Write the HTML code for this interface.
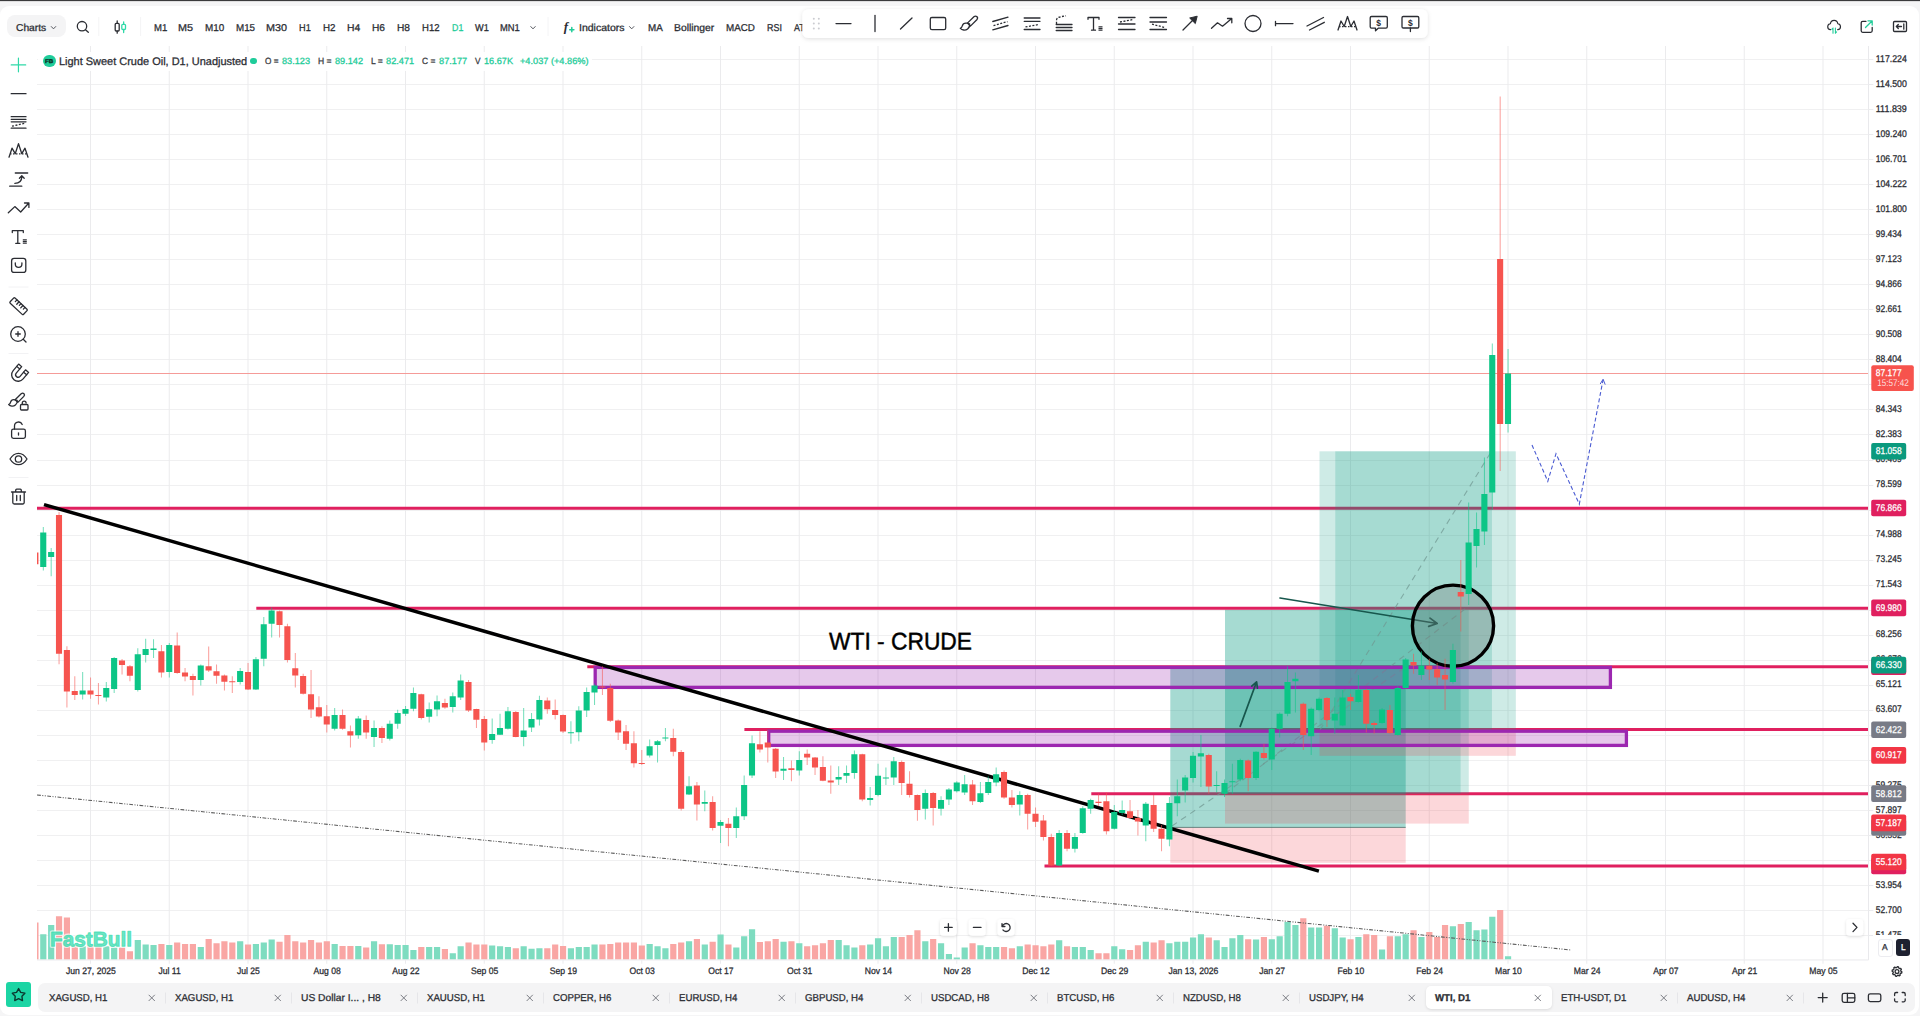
<!DOCTYPE html>
<html><head><meta charset="utf-8"><title>WTI, D1</title><style>
html,body{margin:0;padding:0}
body{width:1920px;height:1016px;overflow:hidden;position:relative;background:#f5f5f6;font-family:"Liberation Sans",sans-serif}
#top{position:absolute;left:0;top:0;width:1920px;height:2px;background:linear-gradient(#3a3a3c 0,#3a3a3c 50%,#dededf 50%,#dededf 100%)}
#panel{position:absolute;left:0;top:6px;width:1918.5px;height:1008.5px;background:#fff;border-radius:9px}
.t{position:absolute;white-space:nowrap;transform-origin:0 50%;display:block}
.btn{position:absolute;background:#f4f4f5}
svg{position:absolute;left:0;top:0}
</style></head>
<body>
<div id="top"></div>
<div id="panel"></div>
<svg id="chart" width="1920" height="1016" viewBox="0 0 1920 1016">
<defs><clipPath id="cp"><rect x="37" y="46" width="1831.3" height="913.75"/></clipPath></defs>
<g clip-path="url(#cp)">
<path d="M37 59.50H1868.3 M37 84.50H1868.3 M37 109.50H1868.3 M37 134.50H1868.3 M37 159.50H1868.3 M37 184.50H1868.3 M37 209.50H1868.3 M37 234.50H1868.3 M37 259.50H1868.3 M37 284.50H1868.3 M37 309.50H1868.3 M37 334.50H1868.3 M37 359.50H1868.3 M37 384.50H1868.3 M37 409.50H1868.3 M37 434.50H1868.3 M37 460.50H1868.3 M37 485.50H1868.3 M37 510.50H1868.3 M37 535.50H1868.3 M37 560.50H1868.3 M37 585.50H1868.3 M37 610.50H1868.3 M37 635.50H1868.3 M37 660.50H1868.3 M37 685.50H1868.3 M37 710.50H1868.3 M37 735.50H1868.3 M37 760.50H1868.3 M37 785.50H1868.3 M37 810.50H1868.3 M37 835.50H1868.3 M37 860.50H1868.3 M37 885.50H1868.3 M37 910.50H1868.3 M37 935.50H1868.3" stroke="#f0f0f1" stroke-width="1" fill="none"/>
<path d="M1823.00 46V959.75 M1744.25 46V959.75 M1665.50 46V959.75 M1586.75 46V959.75 M1508.00 46V959.75 M1429.25 46V959.75 M1350.50 46V959.75 M1271.75 46V959.75 M1193.00 46V959.75 M1114.25 46V959.75 M1035.50 46V959.75 M956.75 46V959.75 M878.00 46V959.75 M799.25 46V959.75 M720.50 46V959.75 M641.75 46V959.75 M563.00 46V959.75 M484.25 46V959.75 M405.50 46V959.75 M326.75 46V959.75 M248.00 46V959.75 M169.25 46V959.75 M90.50 46V959.75" stroke="#ebebed" stroke-width="1" fill="none"/>
<rect x="38" y="52" width="554" height="19" fill="#fff" fill-opacity=".92"/>
<path d="M40.20 934.25h6.2V959.75h-6.2zM48.08 925.00h6.2V959.75h-6.2zM79.58 946.25h6.2V959.75h-6.2zM103.20 946.25h6.2V959.75h-6.2zM111.08 947.50h6.2V959.75h-6.2zM134.70 940.00h6.2V959.75h-6.2zM142.57 944.50h6.2V959.75h-6.2zM150.45 945.00h6.2V959.75h-6.2zM166.20 945.00h6.2V959.75h-6.2zM197.70 947.00h6.2V959.75h-6.2zM237.07 941.25h6.2V959.75h-6.2zM252.82 944.00h6.2V959.75h-6.2zM260.70 942.50h6.2V959.75h-6.2zM268.57 939.50h6.2V959.75h-6.2zM331.57 944.00h6.2V959.75h-6.2zM355.20 946.00h6.2V959.75h-6.2zM370.95 941.25h6.2V959.75h-6.2zM386.70 944.25h6.2V959.75h-6.2zM394.57 945.00h6.2V959.75h-6.2zM402.45 945.00h6.2V959.75h-6.2zM410.32 950.00h6.2V959.75h-6.2zM426.07 947.00h6.2V959.75h-6.2zM433.95 947.00h6.2V959.75h-6.2zM449.70 953.25h6.2V959.75h-6.2zM457.57 946.25h6.2V959.75h-6.2zM489.07 945.50h6.2V959.75h-6.2zM496.95 946.25h6.2V959.75h-6.2zM504.82 947.00h6.2V959.75h-6.2zM520.58 946.25h6.2V959.75h-6.2zM528.45 948.75h6.2V959.75h-6.2zM536.33 948.25h6.2V959.75h-6.2zM567.83 948.25h6.2V959.75h-6.2zM575.70 947.00h6.2V959.75h-6.2zM583.58 947.00h6.2V959.75h-6.2zM591.45 944.50h6.2V959.75h-6.2zM646.58 944.00h6.2V959.75h-6.2zM654.45 946.25h6.2V959.75h-6.2zM662.33 948.25h6.2V959.75h-6.2zM685.95 941.25h6.2V959.75h-6.2zM701.70 944.50h6.2V959.75h-6.2zM717.45 934.50h6.2V959.75h-6.2zM733.20 947.50h6.2V959.75h-6.2zM741.08 936.25h6.2V959.75h-6.2zM748.95 929.25h6.2V959.75h-6.2zM780.45 941.75h6.2V959.75h-6.2zM796.20 943.25h6.2V959.75h-6.2zM835.58 940.00h6.2V959.75h-6.2zM843.45 945.25h6.2V959.75h-6.2zM851.33 947.50h6.2V959.75h-6.2zM867.08 944.50h6.2V959.75h-6.2zM874.95 938.25h6.2V959.75h-6.2zM882.83 946.25h6.2V959.75h-6.2zM890.70 937.00h6.2V959.75h-6.2zM922.20 941.25h6.2V959.75h-6.2zM937.95 943.25h6.2V959.75h-6.2zM945.83 954.00h6.2V959.75h-6.2zM953.70 957.50h6.2V959.75h-6.2zM961.58 947.50h6.2V959.75h-6.2zM977.33 945.25h6.2V959.75h-6.2zM985.20 947.00h6.2V959.75h-6.2zM993.08 947.00h6.2V959.75h-6.2zM1016.70 946.25h6.2V959.75h-6.2zM1056.08 940.25h6.2V959.75h-6.2zM1071.83 947.00h6.2V959.75h-6.2zM1079.70 947.00h6.2V959.75h-6.2zM1087.58 950.00h6.2V959.75h-6.2zM1111.20 946.25h6.2V959.75h-6.2zM1119.08 949.25h6.2V959.75h-6.2zM1142.70 941.75h6.2V959.75h-6.2zM1166.33 943.25h6.2V959.75h-6.2zM1174.20 941.75h6.2V959.75h-6.2zM1182.08 941.75h6.2V959.75h-6.2zM1189.95 937.50h6.2V959.75h-6.2zM1197.83 934.25h6.2V959.75h-6.2zM1213.58 940.25h6.2V959.75h-6.2zM1221.45 947.00h6.2V959.75h-6.2zM1229.33 938.25h6.2V959.75h-6.2zM1237.20 935.00h6.2V959.75h-6.2zM1252.95 939.50h6.2V959.75h-6.2zM1268.70 939.25h6.2V959.75h-6.2zM1276.58 936.25h6.2V959.75h-6.2zM1284.45 922.00h6.2V959.75h-6.2zM1292.33 925.00h6.2V959.75h-6.2zM1308.08 927.50h6.2V959.75h-6.2zM1315.95 927.50h6.2V959.75h-6.2zM1331.70 928.25h6.2V959.75h-6.2zM1339.58 937.50h6.2V959.75h-6.2zM1355.33 937.00h6.2V959.75h-6.2zM1378.95 949.50h6.2V959.75h-6.2zM1394.70 936.25h6.2V959.75h-6.2zM1402.58 934.25h6.2V959.75h-6.2zM1418.33 937.00h6.2V959.75h-6.2zM1449.83 926.25h6.2V959.75h-6.2zM1465.58 922.00h6.2V959.75h-6.2zM1473.45 930.25h6.2V959.75h-6.2zM1481.33 929.50h6.2V959.75h-6.2zM1489.20 916.75h6.2V959.75h-6.2zM1504.95 956.25h6.2V959.75h-6.2z" fill="#7edcc0"/>
<path d="M32.33 922.50h6.2V959.75h-6.2zM55.95 916.25h6.2V959.75h-6.2zM63.83 917.50h6.2V959.75h-6.2zM71.70 945.00h6.2V959.75h-6.2zM87.45 945.00h6.2V959.75h-6.2zM95.33 946.25h6.2V959.75h-6.2zM118.95 947.50h6.2V959.75h-6.2zM126.83 951.25h6.2V959.75h-6.2zM158.32 944.00h6.2V959.75h-6.2zM174.07 942.50h6.2V959.75h-6.2zM181.95 944.00h6.2V959.75h-6.2zM189.82 944.00h6.2V959.75h-6.2zM205.57 939.00h6.2V959.75h-6.2zM213.45 943.25h6.2V959.75h-6.2zM221.32 941.25h6.2V959.75h-6.2zM229.20 942.50h6.2V959.75h-6.2zM244.95 944.50h6.2V959.75h-6.2zM276.45 941.75h6.2V959.75h-6.2zM284.32 935.00h6.2V959.75h-6.2zM292.20 941.25h6.2V959.75h-6.2zM300.07 942.50h6.2V959.75h-6.2zM307.95 940.00h6.2V959.75h-6.2zM315.82 942.50h6.2V959.75h-6.2zM323.70 941.25h6.2V959.75h-6.2zM339.45 946.00h6.2V959.75h-6.2zM347.32 946.00h6.2V959.75h-6.2zM363.07 947.50h6.2V959.75h-6.2zM378.82 944.25h6.2V959.75h-6.2zM418.20 947.00h6.2V959.75h-6.2zM441.82 949.00h6.2V959.75h-6.2zM465.45 942.50h6.2V959.75h-6.2zM473.32 944.50h6.2V959.75h-6.2zM481.20 944.50h6.2V959.75h-6.2zM512.70 948.25h6.2V959.75h-6.2zM544.20 948.25h6.2V959.75h-6.2zM552.08 944.50h6.2V959.75h-6.2zM559.95 946.00h6.2V959.75h-6.2zM599.33 944.50h6.2V959.75h-6.2zM607.20 944.00h6.2V959.75h-6.2zM615.08 942.50h6.2V959.75h-6.2zM622.95 942.50h6.2V959.75h-6.2zM630.83 942.50h6.2V959.75h-6.2zM638.70 945.50h6.2V959.75h-6.2zM670.20 944.00h6.2V959.75h-6.2zM678.08 942.50h6.2V959.75h-6.2zM693.83 939.00h6.2V959.75h-6.2zM709.58 941.75h6.2V959.75h-6.2zM725.33 944.50h6.2V959.75h-6.2zM756.83 942.00h6.2V959.75h-6.2zM764.70 941.25h6.2V959.75h-6.2zM772.58 939.00h6.2V959.75h-6.2zM788.33 941.25h6.2V959.75h-6.2zM804.08 946.25h6.2V959.75h-6.2zM811.95 945.25h6.2V959.75h-6.2zM819.83 943.25h6.2V959.75h-6.2zM827.70 940.00h6.2V959.75h-6.2zM859.20 945.25h6.2V959.75h-6.2zM898.58 937.00h6.2V959.75h-6.2zM906.45 935.00h6.2V959.75h-6.2zM914.33 930.25h6.2V959.75h-6.2zM930.08 939.00h6.2V959.75h-6.2zM969.45 943.25h6.2V959.75h-6.2zM1000.95 947.00h6.2V959.75h-6.2zM1008.83 948.25h6.2V959.75h-6.2zM1024.58 944.50h6.2V959.75h-6.2zM1032.45 945.25h6.2V959.75h-6.2zM1040.33 946.25h6.2V959.75h-6.2zM1048.20 944.50h6.2V959.75h-6.2zM1063.95 946.25h6.2V959.75h-6.2zM1095.45 953.25h6.2V959.75h-6.2zM1103.33 953.25h6.2V959.75h-6.2zM1126.95 950.00h6.2V959.75h-6.2zM1134.83 945.25h6.2V959.75h-6.2zM1150.58 942.50h6.2V959.75h-6.2zM1158.45 940.25h6.2V959.75h-6.2zM1205.70 937.50h6.2V959.75h-6.2zM1245.08 939.25h6.2V959.75h-6.2zM1260.83 937.00h6.2V959.75h-6.2zM1300.20 918.25h6.2V959.75h-6.2zM1323.83 925.75h6.2V959.75h-6.2zM1347.45 939.25h6.2V959.75h-6.2zM1363.20 934.25h6.2V959.75h-6.2zM1371.08 935.00h6.2V959.75h-6.2zM1386.83 936.25h6.2V959.75h-6.2zM1410.45 930.25h6.2V959.75h-6.2zM1426.20 932.00h6.2V959.75h-6.2zM1434.08 937.00h6.2V959.75h-6.2zM1441.95 925.00h6.2V959.75h-6.2zM1457.70 924.00h6.2V959.75h-6.2zM1497.08 910.00h6.2V959.75h-6.2z" fill="#f9a6a4"/>
<line x1="37" y1="508.20" x2="1868.3" y2="508.20" stroke="#e0205f" stroke-width="3"/>
<line x1="587.3" y1="666.80" x2="1868.3" y2="666.80" stroke="#e0205f" stroke-width="3"/>
<line x1="744.4" y1="729.60" x2="1868.3" y2="729.60" stroke="#e0205f" stroke-width="3"/>
<line x1="1091.3" y1="793.70" x2="1868.3" y2="793.70" stroke="#e0205f" stroke-width="3"/>
<line x1="1044.5" y1="865.90" x2="1868.3" y2="865.90" stroke="#e0205f" stroke-width="3"/>
<rect x="1170.3" y="667" width="235.40" height="160.40" fill="rgb(8,153,129)" fill-opacity="0.36"/>
<rect x="1170.3" y="827.4" width="235.40" height="35.40" fill="rgb(242,54,69)" fill-opacity="0.2"/>
<line x1="1170.3" y1="827.4" x2="1405.7" y2="827.4" stroke="#4f6f6a" stroke-width="1" stroke-opacity=".8"/>
<rect x="1225" y="609.6" width="243.75" height="184.10" fill="rgb(8,153,129)" fill-opacity="0.2"/>
<rect x="1225" y="793.7" width="243.75" height="29.90" fill="rgb(242,54,69)" fill-opacity="0.2"/>
<rect x="1225" y="609.6" width="235.60" height="184.10" fill="rgb(8,153,129)" fill-opacity="0.2"/>
<rect x="1225" y="793.7" width="235.60" height="29.90" fill="rgb(242,54,69)" fill-opacity="0.0"/>
<line x1="256.3" y1="608.30" x2="1868.3" y2="608.30" stroke="#e0205f" stroke-width="3"/>
<rect x="1319.5" y="451.3" width="196.30" height="278.90" fill="rgb(8,153,129)" fill-opacity="0.2"/>
<rect x="1319.5" y="730.2" width="196.30" height="25.60" fill="rgb(242,54,69)" fill-opacity="0.2"/>
<rect x="1335.3" y="451.3" width="156.60" height="278.90" fill="rgb(8,153,129)" fill-opacity="0.2"/>
<rect x="1335.3" y="730.2" width="156.60" height="25.60" fill="rgb(242,54,69)" fill-opacity="0.0"/>
<line x1="1172" y1="826" x2="1405.7" y2="667" stroke="#6f9690" stroke-width="1.1" stroke-dasharray="6 5" stroke-opacity=".7"/>
<line x1="1225" y1="793.7" x2="1465" y2="609" stroke="#6f9690" stroke-width="1.1" stroke-dasharray="6 5" stroke-opacity=".7"/>
<line x1="1320" y1="730" x2="1491" y2="452" stroke="#6f9690" stroke-width="1.1" stroke-dasharray="6 5" stroke-opacity=".7"/>
<rect x="595.2" y="667.4" width="1015.20" height="20.00" fill="#9c27b0" fill-opacity=".25" stroke="#9c27b0" stroke-width="3.3"/>
<rect x="768.7" y="731.2" width="857.70" height="14.20" fill="#9c27b0" fill-opacity=".25" stroke="#9c27b0" stroke-width="3.3"/>
<line x1="44" y1="504.6" x2="1318.9" y2="871.1" stroke="#000" stroke-width="3.5"/>
<line x1="37" y1="795" x2="1571" y2="950" stroke="#5a5a5a" stroke-width="1.05" stroke-dasharray="3.8 1.5 1 1.5 1 1.5"/>
<path d="M1240.2 726.4L1256.6 681.8M1257.48 688.24L1256.6 681.8L1251.76 686.13" stroke="#17574d" stroke-width="1.7" fill="none" stroke-linecap="round" stroke-linejoin="round"/>
<path d="M1280 598L1437.2 623.5M1428.68 626.40L1437.2 623.5L1430.03 618.06" stroke="#17574d" stroke-width="1.7" fill="none" stroke-linecap="round" stroke-linejoin="round"/>
<circle cx="1453" cy="625.7" r="40.6" fill="#7a7a7a" fill-opacity=".32" stroke="#000" stroke-width="3.4"/>
<line x1="37" y1="373.5" x2="1868.3" y2="373.5" stroke="#f59b98" stroke-width="1"/>
<path d="M42.80 527.00h1V570.50h-1zM50.67 548.00h1V576.25h-1zM82.17 672.00h1V699.50h-1zM105.80 682.00h1V701.50h-1zM113.67 657.00h1V693.00h-1zM137.30 648.25h1V691.50h-1zM145.18 638.75h1V662.50h-1zM153.05 639.25h1V658.00h-1zM168.80 643.00h1V677.50h-1zM200.30 664.50h1V685.50h-1zM239.68 668.00h1V684.50h-1zM255.43 657.00h1V690.00h-1zM263.30 617.00h1V666.25h-1zM271.18 607.50h1V637.50h-1zM334.18 708.12h1V730.62h-1zM357.80 716.00h1V738.75h-1zM373.55 720.62h1V746.88h-1zM389.30 720.62h1V740.62h-1zM397.18 709.75h1V728.75h-1zM405.05 706.00h1V716.00h-1zM412.93 687.50h1V711.25h-1zM428.68 702.50h1V722.50h-1zM436.55 695.50h1V716.25h-1zM452.30 692.50h1V712.50h-1zM460.18 674.50h1V700.00h-1zM491.68 718.50h1V743.75h-1zM499.55 713.75h1V735.00h-1zM507.43 706.88h1V729.38h-1zM523.17 708.12h1V746.25h-1zM531.05 713.12h1V731.88h-1zM538.92 695.75h1V725.50h-1zM570.42 721.25h1V743.75h-1zM578.30 706.25h1V741.25h-1zM586.17 687.50h1V717.00h-1zM594.05 683.75h1V705.00h-1zM649.17 739.50h1V757.50h-1zM657.05 740.00h1V762.50h-1zM664.92 728.00h1V741.25h-1zM688.55 776.25h1V795.00h-1zM704.30 790.50h1V811.25h-1zM720.05 820.00h1V843.00h-1zM735.80 807.50h1V838.00h-1zM743.67 775.50h1V820.00h-1zM751.55 735.50h1V778.00h-1zM783.05 757.00h1V780.00h-1zM798.80 751.25h1V775.50h-1zM838.17 766.25h1V785.00h-1zM846.05 765.50h1V783.00h-1zM853.92 750.50h1V778.75h-1zM869.67 787.00h1V805.50h-1zM877.55 763.75h1V796.25h-1zM885.42 767.50h1V785.00h-1zM893.30 757.00h1V785.00h-1zM924.80 789.50h1V819.50h-1zM940.55 796.25h1V815.50h-1zM948.42 788.00h1V805.00h-1zM956.30 781.25h1V792.50h-1zM964.17 775.00h1V795.00h-1zM979.92 782.00h1V803.00h-1zM987.80 776.25h1V795.00h-1zM995.67 767.50h1V786.25h-1zM1019.30 791.25h1V815.50h-1zM1058.67 830.00h1V866.25h-1zM1074.42 833.00h1V852.50h-1zM1082.30 806.25h1V833.75h-1zM1090.17 798.75h1V813.75h-1zM1113.80 805.00h1V829.50h-1zM1121.67 800.50h1V815.00h-1zM1145.30 802.00h1V841.25h-1zM1168.92 797.00h1V846.25h-1zM1176.80 779.50h1V816.25h-1zM1184.67 775.00h1V802.50h-1zM1192.55 752.00h1V782.50h-1zM1200.42 735.00h1V787.00h-1zM1216.17 771.25h1V792.50h-1zM1224.05 779.50h1V797.00h-1zM1231.92 763.75h1V793.75h-1zM1239.80 758.75h1V781.25h-1zM1255.55 751.25h1V780.00h-1zM1271.30 727.50h1V770.00h-1zM1279.17 712.50h1V737.50h-1zM1287.05 666.25h1V716.25h-1zM1294.92 672.50h1V712.50h-1zM1310.67 707.50h1V755.00h-1zM1318.55 697.50h1V711.25h-1zM1334.30 697.50h1V733.75h-1zM1342.17 690.00h1V726.25h-1zM1357.92 675.00h1V702.50h-1zM1381.55 708.00h1V723.75h-1zM1397.30 686.25h1V735.50h-1zM1405.17 658.00h1V688.75h-1zM1420.92 651.25h1V680.00h-1zM1452.42 643.75h1V683.75h-1zM1468.17 502.50h1V605.00h-1zM1476.05 512.50h1V567.50h-1zM1483.92 457.50h1V545.00h-1zM1491.80 343.50h1V510.00h-1zM1507.55 349.00h1V432.50h-1z" fill="#0cc586" fill-opacity=".58"/><path d="M34.92 552.50h1V564.25h-1zM58.55 512.00h1V664.25h-1zM66.42 646.25h1V707.50h-1zM74.30 676.25h1V700.00h-1zM90.05 677.50h1V698.75h-1zM97.92 683.00h1V704.50h-1zM121.55 659.00h1V674.50h-1zM129.43 665.00h1V681.25h-1zM160.93 645.00h1V677.50h-1zM176.68 632.50h1V673.75h-1zM184.55 668.00h1V681.25h-1zM192.43 673.75h1V695.50h-1zM208.18 646.50h1V672.00h-1zM216.05 664.50h1V683.75h-1zM223.93 674.50h1V690.50h-1zM231.80 676.25h1V693.00h-1zM247.55 663.00h1V690.00h-1zM279.05 610.50h1V637.50h-1zM286.93 623.75h1V662.50h-1zM294.80 653.00h1V687.50h-1zM302.68 673.75h1V694.50h-1zM310.55 670.00h1V718.00h-1zM318.43 696.25h1V717.50h-1zM326.30 705.00h1V732.50h-1zM342.05 709.38h1V729.75h-1zM349.93 725.62h1V747.50h-1zM365.68 715.62h1V738.75h-1zM381.43 726.25h1V743.12h-1zM420.80 693.75h1V719.50h-1zM444.43 698.75h1V708.75h-1zM468.05 680.00h1V712.00h-1zM475.93 708.75h1V728.12h-1zM483.80 716.00h1V750.62h-1zM515.30 711.00h1V737.25h-1zM546.80 697.50h1V713.75h-1zM554.67 699.50h1V719.50h-1zM562.55 714.50h1V733.00h-1zM601.92 666.25h1V695.00h-1zM609.80 683.75h1V722.00h-1zM617.67 719.50h1V740.00h-1zM625.55 725.00h1V750.00h-1zM633.42 731.25h1V767.50h-1zM641.30 750.00h1V765.00h-1zM672.80 728.75h1V756.25h-1zM680.67 750.00h1V810.50h-1zM696.42 782.00h1V820.50h-1zM712.17 796.25h1V830.50h-1zM727.92 818.00h1V846.25h-1zM759.42 731.25h1V752.50h-1zM767.30 730.00h1V762.50h-1zM775.17 748.00h1V778.00h-1zM790.92 760.50h1V781.25h-1zM806.67 749.50h1V765.00h-1zM814.55 757.00h1V775.00h-1zM822.42 756.25h1V781.25h-1zM830.30 765.50h1V793.75h-1zM861.80 753.75h1V801.25h-1zM901.17 760.50h1V795.00h-1zM909.05 771.25h1V797.50h-1zM916.92 794.50h1V820.75h-1zM932.67 792.00h1V825.50h-1zM972.05 780.00h1V805.00h-1zM1003.55 770.50h1V798.75h-1zM1011.42 790.00h1V807.50h-1zM1027.17 793.75h1V829.50h-1zM1035.05 807.50h1V827.00h-1zM1042.92 815.00h1V840.50h-1zM1050.80 833.75h1V866.25h-1zM1066.55 830.00h1V851.25h-1zM1098.05 793.75h1V806.25h-1zM1105.92 792.50h1V834.50h-1zM1129.55 800.00h1V818.75h-1zM1137.42 810.00h1V835.50h-1zM1153.17 795.00h1V832.00h-1zM1161.05 825.00h1V851.25h-1zM1208.30 753.75h1V793.75h-1zM1247.67 759.50h1V791.25h-1zM1263.42 743.75h1V759.50h-1zM1302.80 702.50h1V750.00h-1zM1326.42 697.00h1V727.00h-1zM1350.05 693.75h1V710.00h-1zM1365.80 688.75h1V732.50h-1zM1373.67 721.25h1V733.75h-1zM1389.42 705.00h1V733.75h-1zM1413.05 653.75h1V673.75h-1zM1428.80 658.75h1V680.00h-1zM1436.67 663.00h1V685.00h-1zM1444.55 658.75h1V710.00h-1zM1460.30 560.00h1V631.50h-1zM1499.67 96.50h1V471.00h-1z" fill="#f6544f" fill-opacity=".58"/>
<path d="M40.20 532.50h6.1V567.00h-6.1zM48.08 552.00h6.1V557.00h-6.1zM79.58 690.50h6.1V694.50h-6.1zM103.20 688.00h6.1V697.50h-6.1zM111.08 658.00h6.1V689.00h-6.1zM134.70 654.25h6.1V690.00h-6.1zM142.57 649.00h6.1V655.00h-6.1zM150.45 648.50h6.1V650.00h-6.1zM166.20 645.00h6.1V672.00h-6.1zM197.70 665.50h6.1V680.00h-6.1zM237.07 671.00h6.1V682.00h-6.1zM252.82 659.25h6.1V689.50h-6.1zM260.70 624.25h6.1V658.75h-6.1zM268.57 610.50h6.1V623.75h-6.1zM331.57 715.00h6.1V728.75h-6.1zM355.20 718.50h6.1V735.25h-6.1zM370.95 728.12h6.1V736.88h-6.1zM386.70 723.75h6.1V738.75h-6.1zM394.57 713.12h6.1V723.75h-6.1zM402.45 709.12h6.1V713.75h-6.1zM410.32 693.00h6.1V708.75h-6.1zM426.07 709.25h6.1V716.75h-6.1zM433.95 701.25h6.1V709.50h-6.1zM449.70 696.25h6.1V707.00h-6.1zM457.57 680.50h6.1V697.50h-6.1zM489.07 734.00h6.1V740.00h-6.1zM496.95 728.12h6.1V734.75h-6.1zM504.82 711.25h6.1V728.75h-6.1zM520.58 730.62h6.1V736.88h-6.1zM528.45 719.12h6.1V727.50h-6.1zM536.33 700.00h6.1V719.50h-6.1zM567.83 732.25h6.1V733.25h-6.1zM575.70 710.50h6.1V732.25h-6.1zM583.58 692.00h6.1V710.50h-6.1zM591.45 685.50h6.1V692.50h-6.1zM646.58 746.25h6.1V755.50h-6.1zM654.45 741.25h6.1V745.00h-6.1zM662.33 737.50h6.1V738.50h-6.1zM685.95 786.25h6.1V794.50h-6.1zM701.70 802.00h6.1V803.75h-6.1zM717.45 822.00h6.1V825.75h-6.1zM733.20 816.25h6.1V828.00h-6.1zM741.08 785.00h6.1V816.25h-6.1zM748.95 743.25h6.1V775.50h-6.1zM780.45 768.75h6.1V770.75h-6.1zM796.20 760.00h6.1V770.50h-6.1zM835.58 777.00h6.1V779.50h-6.1zM843.45 773.00h6.1V775.75h-6.1zM851.33 754.25h6.1V773.00h-6.1zM867.08 798.00h6.1V800.00h-6.1zM874.95 775.75h6.1V795.00h-6.1zM882.83 777.50h6.1V778.50h-6.1zM890.70 761.25h6.1V777.50h-6.1zM922.20 793.00h6.1V808.75h-6.1zM937.95 800.00h6.1V808.75h-6.1zM945.83 789.50h6.1V799.50h-6.1zM953.70 782.50h6.1V791.25h-6.1zM961.58 784.25h6.1V792.50h-6.1zM977.33 793.25h6.1V802.00h-6.1zM985.20 782.00h6.1V793.00h-6.1zM993.08 774.25h6.1V782.50h-6.1zM1016.70 795.00h6.1V804.50h-6.1zM1056.08 833.00h6.1V865.50h-6.1zM1071.83 837.00h6.1V848.75h-6.1zM1079.70 808.25h6.1V833.00h-6.1zM1087.58 800.00h6.1V808.75h-6.1zM1111.20 812.00h6.1V828.75h-6.1zM1119.08 810.00h6.1V813.00h-6.1zM1142.70 803.75h6.1V825.50h-6.1zM1166.33 803.00h6.1V839.50h-6.1zM1174.20 796.25h6.1V803.25h-6.1zM1182.08 777.50h6.1V790.50h-6.1zM1189.95 755.75h6.1V778.00h-6.1zM1197.83 753.25h6.1V756.50h-6.1zM1213.58 785.00h6.1V786.00h-6.1zM1221.45 783.00h6.1V793.75h-6.1zM1229.33 781.25h6.1V782.25h-6.1zM1237.20 760.00h6.1V779.50h-6.1zM1252.95 751.75h6.1V778.00h-6.1zM1268.70 728.75h6.1V759.50h-6.1zM1276.58 713.75h6.1V728.75h-6.1zM1284.45 682.00h6.1V713.75h-6.1zM1292.33 678.75h6.1V681.25h-6.1zM1308.08 708.75h6.1V736.25h-6.1zM1315.95 698.75h6.1V710.00h-6.1zM1331.70 713.75h6.1V720.50h-6.1zM1339.58 697.50h6.1V725.50h-6.1zM1355.33 690.00h6.1V702.00h-6.1zM1378.95 709.50h6.1V723.00h-6.1zM1394.70 688.00h6.1V735.00h-6.1zM1402.58 659.50h6.1V688.00h-6.1zM1418.33 665.50h6.1V675.00h-6.1zM1449.83 650.00h6.1V682.00h-6.1zM1465.58 542.50h6.1V594.00h-6.1zM1473.45 529.00h6.1V546.00h-6.1zM1481.33 494.00h6.1V531.50h-6.1zM1489.20 355.00h6.1V492.50h-6.1zM1504.95 373.50h6.1V424.00h-6.1z" fill="#0cc586"/><path d="M32.33 552.50h6.1V564.25h-6.1zM55.95 515.00h6.1V653.75h-6.1zM63.83 650.00h6.1V691.50h-6.1zM71.70 691.00h6.1V695.00h-6.1zM87.45 690.50h6.1V694.50h-6.1zM95.33 695.00h6.1V696.00h-6.1zM118.95 660.50h6.1V665.00h-6.1zM126.83 666.25h6.1V675.75h-6.1zM158.32 651.25h6.1V672.50h-6.1zM174.07 645.50h6.1V673.00h-6.1zM181.95 672.50h6.1V676.50h-6.1zM189.82 676.00h6.1V680.00h-6.1zM205.57 666.25h6.1V670.50h-6.1zM213.45 671.25h6.1V675.75h-6.1zM221.32 675.50h6.1V681.75h-6.1zM229.20 681.25h6.1V682.25h-6.1zM244.95 672.00h6.1V689.50h-6.1zM276.45 611.25h6.1V625.00h-6.1zM284.32 626.25h6.1V660.00h-6.1zM292.20 668.25h6.1V675.50h-6.1zM300.07 676.00h6.1V693.75h-6.1zM307.95 694.25h6.1V709.50h-6.1zM315.82 707.25h6.1V716.50h-6.1zM323.70 716.25h6.1V724.50h-6.1zM339.45 715.00h6.1V728.75h-6.1zM347.32 731.25h6.1V735.62h-6.1zM363.07 720.00h6.1V732.50h-6.1zM378.82 728.12h6.1V738.12h-6.1zM418.20 694.25h6.1V718.00h-6.1zM441.82 703.00h6.1V707.50h-6.1zM465.45 682.00h6.1V710.50h-6.1zM473.32 709.12h6.1V719.75h-6.1zM481.20 719.00h6.1V742.50h-6.1zM512.70 712.12h6.1V736.88h-6.1zM544.20 700.50h6.1V709.25h-6.1zM552.08 710.00h6.1V715.00h-6.1zM559.95 715.00h6.1V731.50h-6.1zM599.33 686.50h6.1V687.50h-6.1zM607.20 688.00h6.1V720.75h-6.1zM615.08 720.50h6.1V732.50h-6.1zM622.95 731.25h6.1V743.75h-6.1zM630.83 743.25h6.1V763.25h-6.1zM638.70 763.00h6.1V764.00h-6.1zM670.20 738.00h6.1V751.75h-6.1zM678.08 752.00h6.1V808.75h-6.1zM693.83 785.50h6.1V804.50h-6.1zM709.58 802.00h6.1V828.00h-6.1zM725.33 823.75h6.1V828.00h-6.1zM756.83 744.25h6.1V749.50h-6.1zM764.70 742.50h6.1V747.50h-6.1zM772.58 748.75h6.1V771.50h-6.1zM788.33 768.25h6.1V770.00h-6.1zM804.08 753.75h6.1V757.50h-6.1zM811.95 757.50h6.1V767.50h-6.1zM819.83 767.00h6.1V780.75h-6.1zM827.70 780.50h6.1V782.50h-6.1zM859.20 754.25h6.1V799.50h-6.1zM898.58 762.00h6.1V783.00h-6.1zM906.45 783.75h6.1V795.00h-6.1zM914.33 795.00h6.1V810.00h-6.1zM930.08 793.00h6.1V808.00h-6.1zM969.45 784.50h6.1V801.25h-6.1zM1000.95 772.00h6.1V797.50h-6.1zM1008.83 797.50h6.1V805.00h-6.1zM1024.58 795.00h6.1V813.75h-6.1zM1032.45 813.75h6.1V821.75h-6.1zM1040.33 820.50h6.1V837.00h-6.1zM1048.20 837.00h6.1V865.50h-6.1zM1063.95 833.00h6.1V848.75h-6.1zM1095.45 801.75h6.1V803.00h-6.1zM1103.33 801.25h6.1V831.25h-6.1zM1126.95 811.25h6.1V818.00h-6.1zM1134.83 818.00h6.1V821.50h-6.1zM1150.58 805.00h6.1V828.75h-6.1zM1158.45 828.75h6.1V838.75h-6.1zM1205.70 755.00h6.1V786.50h-6.1zM1245.08 760.50h6.1V778.00h-6.1zM1260.83 753.00h6.1V758.00h-6.1zM1300.20 703.75h6.1V735.00h-6.1zM1323.83 698.00h6.1V720.00h-6.1zM1347.45 697.00h6.1V701.25h-6.1zM1363.20 690.00h6.1V723.75h-6.1zM1371.08 723.00h6.1V725.00h-6.1zM1386.83 710.00h6.1V733.00h-6.1zM1410.45 662.00h6.1V665.50h-6.1zM1426.20 665.75h6.1V669.50h-6.1zM1434.08 669.25h6.1V677.50h-6.1zM1441.95 675.00h6.1V679.50h-6.1zM1457.70 592.00h6.1V596.50h-6.1zM1497.08 259.00h6.1V424.00h-6.1z" fill="#f6544f"/>
<path d="M1532 445L1547.8 481.3L1556 453.7L1579.3 504.1L1603 380" stroke="#4a5bd2" stroke-width="1.1" fill="none" stroke-dasharray="4 2.5"/>
<path d="M1600.2 384L1603.1 379.2L1605.2 384.6" stroke="#4a5bd2" stroke-width="1" fill="none"/>
<text transform="translate(829 649.5) rotate(0.03)" font-family="Liberation Sans, sans-serif" font-size="24.2" fill="#000" stroke="#000" stroke-width=".45" textLength="143" lengthAdjust="spacingAndGlyphs">WTI - CRUDE</text>
<text transform="translate(50 946.3) rotate(0.03)" font-family="Liberation Sans, sans-serif" font-weight="700" font-size="20.7" fill="none" stroke="#fff" stroke-opacity=".7" stroke-width="3.2" stroke-linejoin="round" textLength="82" lengthAdjust="spacingAndGlyphs">FastBull</text>
<text transform="translate(50 946.3) rotate(0.03)" font-family="Liberation Sans, sans-serif" font-weight="700" font-size="20.7" fill="#35dcae" fill-opacity=".72" stroke="#35dcae" stroke-opacity=".72" stroke-width="1" stroke-linejoin="round" textLength="82" lengthAdjust="spacingAndGlyphs">FastBull</text>
</g>
<path d="M1868.5 46V959.95M37 959.95H1868.5" stroke="#e9e9ec" stroke-width="1" fill="none"/>
<path d="M1868.3 59.50h5 M1868.3 84.50h5 M1868.3 109.50h5 M1868.3 134.50h5 M1868.3 159.50h5 M1868.3 184.50h5 M1868.3 209.50h5 M1868.3 234.50h5 M1868.3 259.50h5 M1868.3 284.50h5 M1868.3 309.50h5 M1868.3 334.50h5 M1868.3 359.50h5 M1868.3 384.50h5 M1868.3 409.50h5 M1868.3 434.50h5 M1868.3 460.50h5 M1868.3 485.50h5 M1868.3 510.50h5 M1868.3 535.50h5 M1868.3 560.50h5 M1868.3 585.50h5 M1868.3 610.50h5 M1868.3 635.50h5 M1868.3 660.50h5 M1868.3 685.50h5 M1868.3 710.50h5 M1868.3 735.50h5 M1868.3 760.50h5 M1868.3 785.50h5 M1868.3 810.50h5 M1868.3 835.50h5 M1868.3 860.50h5 M1868.3 885.50h5 M1868.3 910.50h5 M1868.3 935.50h5 M1823.00 959.75v4 M1744.25 959.75v4 M1665.50 959.75v4 M1586.75 959.75v4 M1508.00 959.75v4 M1429.25 959.75v4 M1350.50 959.75v4 M1271.75 959.75v4 M1193.00 959.75v4 M1114.25 959.75v4 M1035.50 959.75v4 M956.75 959.75v4 M878.00 959.75v4 M799.25 959.75v4 M720.50 959.75v4 M641.75 959.75v4 M563.00 959.75v4 M484.25 959.75v4 M405.50 959.75v4 M326.75 959.75v4 M248.00 959.75v4 M169.25 959.75v4 M90.50 959.75v4" stroke="#ebebee" stroke-width="1" fill="none"/>
<text transform="translate(1875.8 61.50) rotate(0.03)" font-family="Liberation Sans, sans-serif" font-size="9.7" fill="#2b2d33" stroke="#2b2d33" stroke-width=".28" textLength="31" lengthAdjust="spacingAndGlyphs">117.224</text>
<text transform="translate(1875.8 86.54) rotate(0.03)" font-family="Liberation Sans, sans-serif" font-size="9.7" fill="#2b2d33" stroke="#2b2d33" stroke-width=".28" textLength="31" lengthAdjust="spacingAndGlyphs">114.500</text>
<text transform="translate(1875.8 111.57) rotate(0.03)" font-family="Liberation Sans, sans-serif" font-size="9.7" fill="#2b2d33" stroke="#2b2d33" stroke-width=".28" textLength="31" lengthAdjust="spacingAndGlyphs">111.839</text>
<text transform="translate(1875.8 136.61) rotate(0.03)" font-family="Liberation Sans, sans-serif" font-size="9.7" fill="#2b2d33" stroke="#2b2d33" stroke-width=".28" textLength="31" lengthAdjust="spacingAndGlyphs">109.240</text>
<text transform="translate(1875.8 161.64) rotate(0.03)" font-family="Liberation Sans, sans-serif" font-size="9.7" fill="#2b2d33" stroke="#2b2d33" stroke-width=".28" textLength="31" lengthAdjust="spacingAndGlyphs">106.701</text>
<text transform="translate(1875.8 186.68) rotate(0.03)" font-family="Liberation Sans, sans-serif" font-size="9.7" fill="#2b2d33" stroke="#2b2d33" stroke-width=".28" textLength="31" lengthAdjust="spacingAndGlyphs">104.222</text>
<text transform="translate(1875.8 211.72) rotate(0.03)" font-family="Liberation Sans, sans-serif" font-size="9.7" fill="#2b2d33" stroke="#2b2d33" stroke-width=".28" textLength="31" lengthAdjust="spacingAndGlyphs">101.800</text>
<text transform="translate(1875.8 236.75) rotate(0.03)" font-family="Liberation Sans, sans-serif" font-size="9.7" fill="#2b2d33" stroke="#2b2d33" stroke-width=".28" textLength="25.8" lengthAdjust="spacingAndGlyphs">99.434</text>
<text transform="translate(1875.8 261.79) rotate(0.03)" font-family="Liberation Sans, sans-serif" font-size="9.7" fill="#2b2d33" stroke="#2b2d33" stroke-width=".28" textLength="25.8" lengthAdjust="spacingAndGlyphs">97.123</text>
<text transform="translate(1875.8 286.82) rotate(0.03)" font-family="Liberation Sans, sans-serif" font-size="9.7" fill="#2b2d33" stroke="#2b2d33" stroke-width=".28" textLength="25.8" lengthAdjust="spacingAndGlyphs">94.866</text>
<text transform="translate(1875.8 311.86) rotate(0.03)" font-family="Liberation Sans, sans-serif" font-size="9.7" fill="#2b2d33" stroke="#2b2d33" stroke-width=".28" textLength="25.8" lengthAdjust="spacingAndGlyphs">92.661</text>
<text transform="translate(1875.8 336.90) rotate(0.03)" font-family="Liberation Sans, sans-serif" font-size="9.7" fill="#2b2d33" stroke="#2b2d33" stroke-width=".28" textLength="25.8" lengthAdjust="spacingAndGlyphs">90.508</text>
<text transform="translate(1875.8 361.93) rotate(0.03)" font-family="Liberation Sans, sans-serif" font-size="9.7" fill="#2b2d33" stroke="#2b2d33" stroke-width=".28" textLength="25.8" lengthAdjust="spacingAndGlyphs">88.404</text>
<text transform="translate(1875.8 412.00) rotate(0.03)" font-family="Liberation Sans, sans-serif" font-size="9.7" fill="#2b2d33" stroke="#2b2d33" stroke-width=".28" textLength="25.8" lengthAdjust="spacingAndGlyphs">84.343</text>
<text transform="translate(1875.8 437.04) rotate(0.03)" font-family="Liberation Sans, sans-serif" font-size="9.7" fill="#2b2d33" stroke="#2b2d33" stroke-width=".28" textLength="25.8" lengthAdjust="spacingAndGlyphs">82.383</text>
<text transform="translate(1875.8 462.08) rotate(0.03)" font-family="Liberation Sans, sans-serif" font-size="9.7" fill="#2b2d33" stroke="#2b2d33" stroke-width=".28" textLength="25.8" lengthAdjust="spacingAndGlyphs">80.469</text>
<text transform="translate(1875.8 487.11) rotate(0.03)" font-family="Liberation Sans, sans-serif" font-size="9.7" fill="#2b2d33" stroke="#2b2d33" stroke-width=".28" textLength="25.8" lengthAdjust="spacingAndGlyphs">78.599</text>
<text transform="translate(1875.8 537.18) rotate(0.03)" font-family="Liberation Sans, sans-serif" font-size="9.7" fill="#2b2d33" stroke="#2b2d33" stroke-width=".28" textLength="25.8" lengthAdjust="spacingAndGlyphs">74.988</text>
<text transform="translate(1875.8 562.22) rotate(0.03)" font-family="Liberation Sans, sans-serif" font-size="9.7" fill="#2b2d33" stroke="#2b2d33" stroke-width=".28" textLength="25.8" lengthAdjust="spacingAndGlyphs">73.245</text>
<text transform="translate(1875.8 587.26) rotate(0.03)" font-family="Liberation Sans, sans-serif" font-size="9.7" fill="#2b2d33" stroke="#2b2d33" stroke-width=".28" textLength="25.8" lengthAdjust="spacingAndGlyphs">71.543</text>
<text transform="translate(1875.8 637.33) rotate(0.03)" font-family="Liberation Sans, sans-serif" font-size="9.7" fill="#2b2d33" stroke="#2b2d33" stroke-width=".28" textLength="25.8" lengthAdjust="spacingAndGlyphs">68.256</text>
<text transform="translate(1875.8 662.36) rotate(0.03)" font-family="Liberation Sans, sans-serif" font-size="9.7" fill="#2b2d33" stroke="#2b2d33" stroke-width=".28" textLength="25.8" lengthAdjust="spacingAndGlyphs">66.670</text>
<text transform="translate(1875.8 687.40) rotate(0.03)" font-family="Liberation Sans, sans-serif" font-size="9.7" fill="#2b2d33" stroke="#2b2d33" stroke-width=".28" textLength="25.8" lengthAdjust="spacingAndGlyphs">65.121</text>
<text transform="translate(1875.8 712.44) rotate(0.03)" font-family="Liberation Sans, sans-serif" font-size="9.7" fill="#2b2d33" stroke="#2b2d33" stroke-width=".28" textLength="25.8" lengthAdjust="spacingAndGlyphs">63.607</text>
<text transform="translate(1875.8 787.54) rotate(0.03)" font-family="Liberation Sans, sans-serif" font-size="9.7" fill="#2b2d33" stroke="#2b2d33" stroke-width=".28" textLength="25.8" lengthAdjust="spacingAndGlyphs">59.275</text>
<text transform="translate(1875.8 812.58) rotate(0.03)" font-family="Liberation Sans, sans-serif" font-size="9.7" fill="#2b2d33" stroke="#2b2d33" stroke-width=".28" textLength="25.8" lengthAdjust="spacingAndGlyphs">57.897</text>
<text transform="translate(1875.8 837.62) rotate(0.03)" font-family="Liberation Sans, sans-serif" font-size="9.7" fill="#2b2d33" stroke="#2b2d33" stroke-width=".28" textLength="25.8" lengthAdjust="spacingAndGlyphs">56.552</text>
<text transform="translate(1875.8 887.69) rotate(0.03)" font-family="Liberation Sans, sans-serif" font-size="9.7" fill="#2b2d33" stroke="#2b2d33" stroke-width=".28" textLength="25.8" lengthAdjust="spacingAndGlyphs">53.954</text>
<text transform="translate(1875.8 912.72) rotate(0.03)" font-family="Liberation Sans, sans-serif" font-size="9.7" fill="#2b2d33" stroke="#2b2d33" stroke-width=".28" textLength="25.8" lengthAdjust="spacingAndGlyphs">52.700</text>
<text transform="translate(1875.8 937.76) rotate(0.03)" font-family="Liberation Sans, sans-serif" font-size="9.7" fill="#2b2d33" stroke="#2b2d33" stroke-width=".28" textLength="25.8" lengthAdjust="spacingAndGlyphs">51.475</text>
<rect x="1871.2" y="443.00" width="35" height="16.6" rx="2" fill="#0b9a7e"/>
<text transform="translate(1875.8 454.30) rotate(0.03)" font-family="Liberation Sans, sans-serif" font-size="9.7" fill="#fff" stroke="#fff" stroke-width=".25" textLength="25.8" lengthAdjust="spacingAndGlyphs">81.058</text>
<rect x="1871.2" y="499.70" width="35" height="16.6" rx="2" fill="#e0205f"/>
<text transform="translate(1875.8 511.00) rotate(0.03)" font-family="Liberation Sans, sans-serif" font-size="9.7" fill="#fff" stroke="#fff" stroke-width=".25" textLength="25.8" lengthAdjust="spacingAndGlyphs">76.866</text>
<rect x="1871.2" y="599.60" width="35" height="16.6" rx="2" fill="#e0205f"/>
<text transform="translate(1875.8 610.90) rotate(0.03)" font-family="Liberation Sans, sans-serif" font-size="9.7" fill="#fff" stroke="#fff" stroke-width=".25" textLength="25.8" lengthAdjust="spacingAndGlyphs">69.980</text>
<rect x="1871.2" y="658.50" width="35" height="16.6" rx="2" fill="#e0205f"/>
<text transform="translate(1875.8 669.80) rotate(0.03)" font-family="Liberation Sans, sans-serif" font-size="9.7" fill="#fff" stroke="#fff" stroke-width=".25" textLength="25.8" lengthAdjust="spacingAndGlyphs">66.245</text>
<rect x="1871.2" y="656.80" width="35" height="16.6" rx="2" fill="#0b9a7e"/>
<text transform="translate(1875.8 668.10) rotate(0.03)" font-family="Liberation Sans, sans-serif" font-size="9.7" fill="#fff" stroke="#fff" stroke-width=".25" textLength="25.8" lengthAdjust="spacingAndGlyphs">66.330</text>
<rect x="1871.2" y="721.50" width="35" height="16.6" rx="2" fill="#787b86"/>
<text transform="translate(1875.8 732.80) rotate(0.03)" font-family="Liberation Sans, sans-serif" font-size="9.7" fill="#fff" stroke="#fff" stroke-width=".25" textLength="25.8" lengthAdjust="spacingAndGlyphs">62.422</text>
<rect x="1871.2" y="747.10" width="35" height="16.6" rx="2" fill="#f23645"/>
<text transform="translate(1875.8 758.40) rotate(0.03)" font-family="Liberation Sans, sans-serif" font-size="9.7" fill="#fff" stroke="#fff" stroke-width=".25" textLength="25.8" lengthAdjust="spacingAndGlyphs">60.917</text>
<rect x="1871.2" y="819.10" width="35" height="16.6" rx="2" fill="#787b86"/>
<text transform="translate(1875.8 830.40) rotate(0.03)" font-family="Liberation Sans, sans-serif" font-size="9.7" fill="#fff" stroke="#fff" stroke-width=".25" textLength="25.8" lengthAdjust="spacingAndGlyphs">57.480</text>
<rect x="1871.2" y="785.30" width="35" height="16.6" rx="2" fill="#787b86"/>
<text transform="translate(1875.8 796.60) rotate(0.03)" font-family="Liberation Sans, sans-serif" font-size="9.7" fill="#fff" stroke="#fff" stroke-width=".25" textLength="25.8" lengthAdjust="spacingAndGlyphs">58.812</text>
<rect x="1871.2" y="814.60" width="35" height="16.6" rx="2" fill="#f23645"/>
<text transform="translate(1875.8 825.90) rotate(0.03)" font-family="Liberation Sans, sans-serif" font-size="9.7" fill="#fff" stroke="#fff" stroke-width=".25" textLength="25.8" lengthAdjust="spacingAndGlyphs">57.187</text>
<rect x="1871.2" y="857.70" width="35" height="16.6" rx="2" fill="#e0205f"/>
<text transform="translate(1875.8 869.00) rotate(0.03)" font-family="Liberation Sans, sans-serif" font-size="9.7" fill="#fff" stroke="#fff" stroke-width=".25" textLength="25.8" lengthAdjust="spacingAndGlyphs">54.950</text>
<rect x="1871.2" y="853.70" width="35" height="16.6" rx="2" fill="#f23645"/>
<text transform="translate(1875.8 865.00) rotate(0.03)" font-family="Liberation Sans, sans-serif" font-size="9.7" fill="#fff" stroke="#fff" stroke-width=".25" textLength="25.8" lengthAdjust="spacingAndGlyphs">55.120</text>
<rect x="1871.3" y="365.3" width="42.5" height="25.6" rx="2" fill="#f7534d"/>
<text transform="translate(1875.8 376.1) rotate(0.03)" font-family="Liberation Sans, sans-serif" font-size="9.7" fill="#fff" stroke="#fff" stroke-width=".25" textLength="25.8" lengthAdjust="spacingAndGlyphs">87.177</text>
<text transform="translate(1877.2 386.3) rotate(0.03)" font-family="Liberation Sans, sans-serif" font-size="9.6" fill="#fff" fill-opacity=".8" textLength="31.5" lengthAdjust="spacingAndGlyphs">15:57:42</text>
<text transform="translate(66.03 973.7) rotate(0.03)" font-family="Liberation Sans, sans-serif" font-size="9.4" fill="#2b2d33" stroke="#2b2d33" stroke-width=".28" textLength="49.73" lengthAdjust="spacingAndGlyphs">Jun 27, 2025</text>
<text transform="translate(158.49 973.7) rotate(0.03)" font-family="Liberation Sans, sans-serif" font-size="9.4" fill="#2b2d33" stroke="#2b2d33" stroke-width=".28" textLength="22.31" lengthAdjust="spacingAndGlyphs">Jul 11</text>
<text transform="translate(236.93 973.7) rotate(0.03)" font-family="Liberation Sans, sans-serif" font-size="9.4" fill="#2b2d33" stroke="#2b2d33" stroke-width=".28" textLength="22.95" lengthAdjust="spacingAndGlyphs">Jul 25</text>
<text transform="translate(313.52 973.7) rotate(0.03)" font-family="Liberation Sans, sans-serif" font-size="9.4" fill="#2b2d33" stroke="#2b2d33" stroke-width=".28" textLength="27.26" lengthAdjust="spacingAndGlyphs">Aug 08</text>
<text transform="translate(392.27 973.7) rotate(0.03)" font-family="Liberation Sans, sans-serif" font-size="9.4" fill="#2b2d33" stroke="#2b2d33" stroke-width=".28" textLength="27.26" lengthAdjust="spacingAndGlyphs">Aug 22</text>
<text transform="translate(471.02 973.7) rotate(0.03)" font-family="Liberation Sans, sans-serif" font-size="9.4" fill="#2b2d33" stroke="#2b2d33" stroke-width=".28" textLength="27.26" lengthAdjust="spacingAndGlyphs">Sep 05</text>
<text transform="translate(549.77 973.7) rotate(0.03)" font-family="Liberation Sans, sans-serif" font-size="9.4" fill="#2b2d33" stroke="#2b2d33" stroke-width=".28" textLength="27.26" lengthAdjust="spacingAndGlyphs">Sep 19</text>
<text transform="translate(629.48 973.7) rotate(0.03)" font-family="Liberation Sans, sans-serif" font-size="9.4" fill="#2b2d33" stroke="#2b2d33" stroke-width=".28" textLength="25.34" lengthAdjust="spacingAndGlyphs">Oct 03</text>
<text transform="translate(708.23 973.7) rotate(0.03)" font-family="Liberation Sans, sans-serif" font-size="9.4" fill="#2b2d33" stroke="#2b2d33" stroke-width=".28" textLength="25.34" lengthAdjust="spacingAndGlyphs">Oct 17</text>
<text transform="translate(786.98 973.7) rotate(0.03)" font-family="Liberation Sans, sans-serif" font-size="9.4" fill="#2b2d33" stroke="#2b2d33" stroke-width=".28" textLength="25.34" lengthAdjust="spacingAndGlyphs">Oct 31</text>
<text transform="translate(864.77 973.7) rotate(0.03)" font-family="Liberation Sans, sans-serif" font-size="9.4" fill="#2b2d33" stroke="#2b2d33" stroke-width=".28" textLength="27.25" lengthAdjust="spacingAndGlyphs">Nov 14</text>
<text transform="translate(943.52 973.7) rotate(0.03)" font-family="Liberation Sans, sans-serif" font-size="9.4" fill="#2b2d33" stroke="#2b2d33" stroke-width=".28" textLength="27.25" lengthAdjust="spacingAndGlyphs">Nov 28</text>
<text transform="translate(1022.27 973.7) rotate(0.03)" font-family="Liberation Sans, sans-serif" font-size="9.4" fill="#2b2d33" stroke="#2b2d33" stroke-width=".28" textLength="27.25" lengthAdjust="spacingAndGlyphs">Dec 12</text>
<text transform="translate(1101.02 973.7) rotate(0.03)" font-family="Liberation Sans, sans-serif" font-size="9.4" fill="#2b2d33" stroke="#2b2d33" stroke-width=".28" textLength="27.25" lengthAdjust="spacingAndGlyphs">Dec 29</text>
<text transform="translate(1168.53 973.7) rotate(0.03)" font-family="Liberation Sans, sans-serif" font-size="9.4" fill="#2b2d33" stroke="#2b2d33" stroke-width=".28" textLength="49.73" lengthAdjust="spacingAndGlyphs">Jan 13, 2026</text>
<text transform="translate(1259.24 973.7) rotate(0.03)" font-family="Liberation Sans, sans-serif" font-size="9.4" fill="#2b2d33" stroke="#2b2d33" stroke-width=".28" textLength="25.82" lengthAdjust="spacingAndGlyphs">Jan 27</text>
<text transform="translate(1337.51 973.7) rotate(0.03)" font-family="Liberation Sans, sans-serif" font-size="9.4" fill="#2b2d33" stroke="#2b2d33" stroke-width=".28" textLength="26.77" lengthAdjust="spacingAndGlyphs">Feb 10</text>
<text transform="translate(1416.26 973.7) rotate(0.03)" font-family="Liberation Sans, sans-serif" font-size="9.4" fill="#2b2d33" stroke="#2b2d33" stroke-width=".28" textLength="26.77" lengthAdjust="spacingAndGlyphs">Feb 24</text>
<text transform="translate(1495.02 973.7) rotate(0.03)" font-family="Liberation Sans, sans-serif" font-size="9.4" fill="#2b2d33" stroke="#2b2d33" stroke-width=".28" textLength="26.77" lengthAdjust="spacingAndGlyphs">Mar 10</text>
<text transform="translate(1573.77 973.7) rotate(0.03)" font-family="Liberation Sans, sans-serif" font-size="9.4" fill="#2b2d33" stroke="#2b2d33" stroke-width=".28" textLength="26.77" lengthAdjust="spacingAndGlyphs">Mar 24</text>
<text transform="translate(1653.23 973.7) rotate(0.03)" font-family="Liberation Sans, sans-serif" font-size="9.4" fill="#2b2d33" stroke="#2b2d33" stroke-width=".28" textLength="25.34" lengthAdjust="spacingAndGlyphs">Apr 07</text>
<text transform="translate(1731.98 973.7) rotate(0.03)" font-family="Liberation Sans, sans-serif" font-size="9.4" fill="#2b2d33" stroke="#2b2d33" stroke-width=".28" textLength="25.34" lengthAdjust="spacingAndGlyphs">Apr 21</text>
<text transform="translate(1809.30 973.7) rotate(0.03)" font-family="Liberation Sans, sans-serif" font-size="9.4" fill="#2b2d33" stroke="#2b2d33" stroke-width=".28" textLength="28.20" lengthAdjust="spacingAndGlyphs">May 05</text>
</svg>
<div id="chrome">
<div class="btn" style="left:7.4px;top:15.4px;width:58.6px;height:21.6px;border-radius:8px"></div>
<span class="t" style="left:16.00px;top:21.80px;font-size:10px;line-height:12.00px;color:#2b2d33;-webkit-text-stroke:.28px #2b2d33;transform:scaleX(1.0254) rotate(0.03deg);">Charts</span>
<span class="t" style="left:153.75px;top:21.80px;font-size:10px;line-height:12.00px;color:#2b2d33;-webkit-text-stroke:.28px #2b2d33;transform:scaleX(0.9539) rotate(0.03deg);">M1</span>
<span class="t" style="left:178.00px;top:21.80px;font-size:10px;line-height:12.00px;color:#2b2d33;-webkit-text-stroke:.28px #2b2d33;transform:scaleX(1.0799) rotate(0.03deg);">M5</span>
<span class="t" style="left:204.50px;top:21.80px;font-size:10px;line-height:12.00px;color:#2b2d33;-webkit-text-stroke:.28px #2b2d33;transform:scaleX(0.9896) rotate(0.03deg);">M10</span>
<span class="t" style="left:235.50px;top:21.80px;font-size:10px;line-height:12.00px;color:#2b2d33;-webkit-text-stroke:.28px #2b2d33;transform:scaleX(0.9768) rotate(0.03deg);">M15</span>
<span class="t" style="left:266.00px;top:21.80px;font-size:10px;line-height:12.00px;color:#2b2d33;-webkit-text-stroke:.28px #2b2d33;transform:scaleX(1.0796) rotate(0.03deg);">M30</span>
<span class="t" style="left:298.75px;top:21.80px;font-size:10px;line-height:12.00px;color:#2b2d33;-webkit-text-stroke:.28px #2b2d33;transform:scaleX(0.9192) rotate(0.03deg);">H1</span>
<span class="t" style="left:322.50px;top:21.80px;font-size:10px;line-height:12.00px;color:#2b2d33;-webkit-text-stroke:.28px #2b2d33;transform:scaleX(0.9779) rotate(0.03deg);">H2</span>
<span class="t" style="left:346.75px;top:21.80px;font-size:10px;line-height:12.00px;color:#2b2d33;-webkit-text-stroke:.28px #2b2d33;transform:scaleX(1.0365) rotate(0.03deg);">H4</span>
<span class="t" style="left:372.00px;top:21.80px;font-size:10px;line-height:12.00px;color:#2b2d33;-webkit-text-stroke:.28px #2b2d33;transform:scaleX(1.0170) rotate(0.03deg);">H6</span>
<span class="t" style="left:397.00px;top:21.80px;font-size:10px;line-height:12.00px;color:#2b2d33;-webkit-text-stroke:.28px #2b2d33;transform:scaleX(1.0170) rotate(0.03deg);">H8</span>
<span class="t" style="left:422.00px;top:21.80px;font-size:10px;line-height:12.00px;color:#2b2d33;-webkit-text-stroke:.28px #2b2d33;transform:scaleX(0.9540) rotate(0.03deg);">H12</span>
<span class="t" style="left:451.50px;top:21.80px;font-size:10px;line-height:12.00px;color:#22cc99;-webkit-text-stroke:.28px #22cc99;transform:scaleX(0.8840) rotate(0.03deg);">D1</span>
<span class="t" style="left:474.70px;top:21.80px;font-size:10px;line-height:12.00px;color:#2b2d33;-webkit-text-stroke:.28px #2b2d33;transform:scaleX(0.9200) rotate(0.03deg);">W1</span>
<span class="t" style="left:500.40px;top:21.80px;font-size:10px;line-height:12.00px;color:#2b2d33;-webkit-text-stroke:.28px #2b2d33;transform:scaleX(0.9378) rotate(0.03deg);">MN1</span>
<span class="t" style="left:578.60px;top:21.80px;font-size:10px;line-height:12.00px;color:#2b2d33;-webkit-text-stroke:.28px #2b2d33;transform:scaleX(1.0519) rotate(0.03deg);">Indicators</span>
<span class="t" style="left:647.50px;top:21.80px;font-size:10px;line-height:12.00px;color:#2b2d33;-webkit-text-stroke:.28px #2b2d33;transform:scaleX(0.9800) rotate(0.03deg);">MA</span>
<span class="t" style="left:674.00px;top:21.80px;font-size:10px;line-height:12.00px;color:#2b2d33;-webkit-text-stroke:.28px #2b2d33;transform:scaleX(1.0357) rotate(0.03deg);">Bollinger</span>
<span class="t" style="left:726.00px;top:21.80px;font-size:10px;line-height:12.00px;color:#2b2d33;-webkit-text-stroke:.28px #2b2d33;transform:scaleX(0.9815) rotate(0.03deg);">MACD</span>
<span class="t" style="left:766.70px;top:21.80px;font-size:10px;line-height:12.00px;color:#2b2d33;-webkit-text-stroke:.28px #2b2d33;transform:scaleX(0.8938) rotate(0.03deg);">RSI</span>
<span class="t" style="left:793.90px;top:21.80px;font-size:10px;line-height:12.00px;color:#2b2d33;-webkit-text-stroke:.28px #2b2d33;transform:scaleX(0.8828) rotate(0.03deg);">ATR</span>
<span class="t" style="left:58.75px;top:54.70px;font-size:11px;line-height:13.20px;color:#2b2d33;-webkit-text-stroke:.28px #2b2d33;transform:scaleX(0.9962) rotate(0.03deg);">Light Sweet Crude Oil, D1, Unadjusted</span>
<span class="t" style="left:264.50px;top:55.90px;font-size:9px;line-height:10.80px;color:#3a3c42;-webkit-text-stroke:.28px #3a3c42;transform:scaleX(0.9148) rotate(0.03deg);">O =</span>
<span class="t" style="left:282.00px;top:55.90px;font-size:9px;line-height:10.80px;color:#22cc99;-webkit-text-stroke:.28px #22cc99;transform:scaleX(1.0173) rotate(0.03deg);">83.123</span>
<span class="t" style="left:317.50px;top:55.90px;font-size:9px;line-height:10.80px;color:#3a3c42;-webkit-text-stroke:.28px #3a3c42;transform:scaleX(0.9469) rotate(0.03deg);">H =</span>
<span class="t" style="left:335.00px;top:55.90px;font-size:9px;line-height:10.80px;color:#22cc99;-webkit-text-stroke:.28px #22cc99;transform:scaleX(1.0173) rotate(0.03deg);">89.142</span>
<span class="t" style="left:370.75px;top:55.90px;font-size:9px;line-height:10.80px;color:#3a3c42;-webkit-text-stroke:.28px #3a3c42;transform:scaleX(0.9494) rotate(0.03deg);">L =</span>
<span class="t" style="left:386.25px;top:55.90px;font-size:9px;line-height:10.80px;color:#22cc99;-webkit-text-stroke:.28px #22cc99;transform:scaleX(1.0245) rotate(0.03deg);">82.471</span>
<span class="t" style="left:422.00px;top:55.90px;font-size:9px;line-height:10.80px;color:#3a3c42;-webkit-text-stroke:.28px #3a3c42;transform:scaleX(0.9329) rotate(0.03deg);">C =</span>
<span class="t" style="left:438.75px;top:55.90px;font-size:9px;line-height:10.80px;color:#22cc99;-webkit-text-stroke:.28px #22cc99;transform:scaleX(1.0245) rotate(0.03deg);">87.177</span>
<span class="t" style="left:474.50px;top:55.90px;font-size:9px;line-height:10.80px;color:#3a3c42;-webkit-text-stroke:.28px #3a3c42;transform:scaleX(0.9162) rotate(0.03deg);">V</span>
<span class="t" style="left:483.50px;top:55.90px;font-size:9px;line-height:10.80px;color:#22cc99;-webkit-text-stroke:.28px #22cc99;transform:scaleX(1.0167) rotate(0.03deg);">16.67K</span>
<span class="t" style="left:520.00px;top:55.90px;font-size:9px;line-height:10.80px;color:#22cc99;-webkit-text-stroke:.28px #22cc99;transform:scaleX(1.0217) rotate(0.03deg);">+4.037 (+4.86%)</span>
<div style="position:absolute;left:42.95px;top:54.7px;width:12.6px;height:12.6px;border-radius:50%;background:#1fcc9a"></div>
<div style="position:absolute;left:250.2px;top:57.7px;width:6.6px;height:6.6px;border-radius:50%;background:#1fcc9a"></div>
<span class="t" style="left:45.10px;top:57.84px;font-size:5.6px;line-height:6.72px;color:#0b2b22;-webkit-text-stroke:.28px #0b2b22;font-weight:700;transform:scaleX(1.1119) rotate(0.03deg);">FB</span>
<div class="btn" style="left:37.6px;top:983.1px;width:1877.4px;height:28.6px;border-radius:7px;background:#f4f4f5"></div>
<div style="position:absolute;left:1426.3px;top:986.2px;width:125.6px;height:22.8px;border-radius:5px;background:#fff;box-shadow:0 1px 3px rgba(0,0,0,.10)"></div>
<span class="t" style="left:48.75px;top:992.40px;font-size:10px;line-height:12.00px;color:#2b2d33;-webkit-text-stroke:.28px #2b2d33;transform:scaleX(0.9650) rotate(0.03deg);">XAGUSD, H1</span>
<span class="t" style="left:174.75px;top:992.40px;font-size:10px;line-height:12.00px;color:#2b2d33;-webkit-text-stroke:.28px #2b2d33;transform:scaleX(0.9650) rotate(0.03deg);">XAGUSD, H1</span>
<span class="t" style="left:300.75px;top:992.40px;font-size:10px;line-height:12.00px;color:#2b2d33;-webkit-text-stroke:.28px #2b2d33;transform:scaleX(1.0251) rotate(0.03deg);">US Dollar I... , H8</span>
<span class="t" style="left:426.75px;top:992.40px;font-size:10px;line-height:12.00px;color:#2b2d33;-webkit-text-stroke:.28px #2b2d33;transform:scaleX(0.9650) rotate(0.03deg);">XAUUSD, H1</span>
<span class="t" style="left:552.75px;top:992.40px;font-size:10px;line-height:12.00px;color:#2b2d33;-webkit-text-stroke:.28px #2b2d33;transform:scaleX(0.9650) rotate(0.03deg);">COPPER, H6</span>
<span class="t" style="left:678.75px;top:992.40px;font-size:10px;line-height:12.00px;color:#2b2d33;-webkit-text-stroke:.28px #2b2d33;transform:scaleX(0.9650) rotate(0.03deg);">EURUSD, H4</span>
<span class="t" style="left:804.75px;top:992.40px;font-size:10px;line-height:12.00px;color:#2b2d33;-webkit-text-stroke:.28px #2b2d33;transform:scaleX(0.9650) rotate(0.03deg);">GBPUSD, H4</span>
<span class="t" style="left:930.75px;top:992.40px;font-size:10px;line-height:12.00px;color:#2b2d33;-webkit-text-stroke:.28px #2b2d33;transform:scaleX(0.9650) rotate(0.03deg);">USDCAD, H8</span>
<span class="t" style="left:1056.75px;top:992.40px;font-size:10px;line-height:12.00px;color:#2b2d33;-webkit-text-stroke:.28px #2b2d33;transform:scaleX(0.9650) rotate(0.03deg);">BTCUSD, H6</span>
<span class="t" style="left:1182.75px;top:992.40px;font-size:10px;line-height:12.00px;color:#2b2d33;-webkit-text-stroke:.28px #2b2d33;transform:scaleX(0.9650) rotate(0.03deg);">NZDUSD, H8</span>
<span class="t" style="left:1308.75px;top:992.40px;font-size:10px;line-height:12.00px;color:#2b2d33;-webkit-text-stroke:.28px #2b2d33;transform:scaleX(0.9650) rotate(0.03deg);">USDJPY, H4</span>
<span class="t" style="left:1434.75px;top:992.40px;font-size:10px;line-height:12.00px;color:#2b2d33;-webkit-text-stroke:.28px #2b2d33;font-weight:700;transform:scaleX(0.9650) rotate(0.03deg);">WTI, D1</span>
<span class="t" style="left:1560.75px;top:992.40px;font-size:10px;line-height:12.00px;color:#2b2d33;-webkit-text-stroke:.28px #2b2d33;transform:scaleX(0.9650) rotate(0.03deg);">ETH-USDT, D1</span>
<span class="t" style="left:1686.75px;top:992.40px;font-size:10px;line-height:12.00px;color:#2b2d33;-webkit-text-stroke:.28px #2b2d33;transform:scaleX(0.9650) rotate(0.03deg);">AUDUSD, H4</span>
<div style="position:absolute;left:6px;top:981.9px;width:25.2px;height:25.2px;border-radius:3px;background:#1cd5a4"></div>
<div style="position:absolute;left:1873px;top:935px;width:42px;height:24px;background:#fff"></div>
<div style="position:absolute;left:1877.8px;top:938.7px;width:13.5px;height:16.3px;border-radius:3px;background:#fff;border:1px solid #ececf0;box-sizing:content-box"></div>
<div style="position:absolute;left:1896px;top:938.7px;width:14.2px;height:17.3px;border-radius:3px;background:#1e2130"></div>
<span class="t" style="left:1881.80px;top:942.44px;font-size:8.6px;line-height:10.32px;color:#2b2d33;-webkit-text-stroke:.28px #2b2d33;transform:scaleX(0.9762) rotate(0.03deg);">A</span>
<span class="t" style="left:1900.60px;top:942.44px;font-size:8.6px;line-height:10.32px;color:#fff;-webkit-text-stroke:.28px #fff;transform:scaleX(0.9619) rotate(0.03deg);">L</span>
</div>
<svg id="icons" width="1920" height="1016" viewBox="0 0 1920 1016">
<defs>
<filter id="sh" x="-5%" y="-40%" width="110%" height="200%"><feDropShadow dx="0" dy="1" stdDeviation="2" flood-color="#000" flood-opacity=".13"/></filter>
<filter id="sh2" x="-50%" y="-50%" width="200%" height="200%"><feDropShadow dx="0" dy="1" stdDeviation="1.600" flood-color="#000" flood-opacity=".14"/></filter>
</defs>
<path d="M51.3 26.55L53.5 28.849999999999998L55.7 26.55" stroke="#55575e" fill="none" stroke-width="1.0" stroke-linecap="round" stroke-linejoin="round"/>
<path d="M530.8 26.55L533 28.849999999999998L535.2 26.55" stroke="#55575e" fill="none" stroke-width="1.0" stroke-linecap="round" stroke-linejoin="round"/>
<path d="M629.5 26.55L631.7 28.849999999999998L633.9000000000001 26.55" stroke="#55575e" fill="none" stroke-width="1.0" stroke-linecap="round" stroke-linejoin="round"/>
<circle cx="82" cy="26.2" r="4.7" stroke="#2b2d33" fill="none" stroke-width="1.3" stroke-linecap="round" stroke-linejoin="round"/><path d="M85.5 29.7L88.3 32.3" stroke="#2b2d33" fill="none" stroke-width="1.3" stroke-linecap="round" stroke-linejoin="round"/>
<path d="M98.8 17V36M140.6 17V36M548 17V36" stroke="#f4f4f6" stroke-width="1"/>
<rect x="115.2" y="23.4" width="4" height="7.6" rx="1" stroke="#2b2d33" fill="none" stroke-width="1.3" stroke-linecap="round" stroke-linejoin="round"/><path d="M117.2 20.9V23.2M117.2 31.2V33.2" stroke="#2b2d33" fill="none" stroke-width="1.3" stroke-linecap="round" stroke-linejoin="round"/>
<rect x="121.8" y="24.3" width="3.7" height="5.2" rx="1" stroke="#2fd9a8" fill="none" stroke-width="1.3"/><path d="M123.65 21.8V24.2M123.65 29.7V32.5" stroke="#2fd9a8" fill="none" stroke-width="1.3" stroke-linecap="round"/>
<text x="563.8" y="30.6" font-family="Liberation Serif, serif" font-style="italic" font-weight="700" font-size="13" fill="#2b2d33">f</text>
<path d="M571.8 27.6v4.2M569.7 29.7h4.2" stroke="#22cc99" stroke-width="1.5" stroke-linecap="round"/>
<rect x="802.4" y="9.2" width="625.2" height="28.8" rx="6" fill="#fff" filter="url(#sh)"/>
<circle cx="813.8" cy="18.8" r="1" fill="#cbccd1"/><circle cx="813.8" cy="23.6" r="1" fill="#cbccd1"/><circle cx="813.8" cy="28.4" r="1" fill="#cbccd1"/><circle cx="818.8" cy="18.8" r="1" fill="#cbccd1"/><circle cx="818.8" cy="23.6" r="1" fill="#cbccd1"/><circle cx="818.8" cy="28.4" r="1" fill="#cbccd1"/>
<path d="M836 23.6H851" stroke="#2b2d33" fill="none" stroke-width="1.3" stroke-linecap="round" stroke-linejoin="round"/>
<path d="M875 15.5V31.5" stroke="#2b2d33" fill="none" stroke-width="1.3" stroke-linecap="round" stroke-linejoin="round"/>
<path d="M900.5 29L912 18" stroke="#2b2d33" fill="none" stroke-width="1.3" stroke-linecap="round" stroke-linejoin="round"/>
<rect x="930.3" y="17.5" width="15.4" height="12.2" rx="1.6" stroke="#2b2d33" fill="none" stroke-width="1.3" stroke-linecap="round" stroke-linejoin="round"/>
<path d="M977 16.8c.9.9.6 2-.2 2.9l-6.4 6.4-3-3 6.5-6.3c.9-.8 2.200-.9 3.100 0z" stroke="#2b2d33" fill="none" stroke-width="1.3" stroke-linecap="round" stroke-linejoin="round"/><path d="M967.2 23.2c-2.600-.5-4.400.8-4.900 2.700-.3 1.300-.9 2-2 2.500 1.700 1.800 5 2.300 7.300.5 1.600-1.200 2.400-3 2-5z" stroke="#2b2d33" fill="none" stroke-width="1.3" stroke-linecap="round" stroke-linejoin="round"/>
<path d="M992.8 21.5L1008 17.200M992.8 29.8L1008 25.5" stroke="#2b2d33" fill="none" stroke-width="1.3" stroke-linecap="round" stroke-linejoin="round"/><path d="M993.5 25.600L1007.5 21.6" stroke-linecap="butt" stroke="#2b2d33" fill="none" stroke-width="1.3" stroke-linecap="round" stroke-linejoin="round" stroke-dasharray="2 1.5"/>
<path d="M1024.200 18H1040M1024.200 21.300H1040M1024.200 29.500H1040" stroke="#2b2d33" fill="none" stroke-width="1.3" stroke-linecap="round" stroke-linejoin="round"/><path d="M1025.500 26.900L1039 24.5" stroke-linecap="butt" stroke="#2b2d33" fill="none" stroke-width="1.3" stroke-linecap="round" stroke-linejoin="round" stroke-dasharray="2 1.500"/>
<path d="M1056.500 24V20.500C1056.500 18.200 1058.200 17 1060.500 17" stroke-linecap="butt" stroke="#2b2d33" fill="none" stroke-width="1.3" stroke-linecap="round" stroke-linejoin="round" stroke-dasharray="2.200 1.500"/><path d="M1062 16.500L1066 15.800" stroke-linecap="butt" stroke="#2b2d33" fill="none" stroke-width="1.3" stroke-linecap="round" stroke-linejoin="round" stroke-dasharray="2 1.5"/><path d="M1056.200 24.500H1072M1056.200 27.500H1072M1056.200 30.500H1072" stroke="#2b2d33" fill="none" stroke-width="1.3" stroke-linecap="round" stroke-linejoin="round"/>
<path d="M1088 17.5H1099M1088 17.5v1.800M1099 17.5v1.800M1093.5 17.5V30.2M1091.5 30.2H1095.5" stroke="#2b2d33" fill="none" stroke-width="1.3" stroke-linecap="round" stroke-linejoin="round"/>
<path d="M1098.5 26.7h4M1098.5 28.4h4M1098.5 30.1h4" stroke="#2b2d33" stroke-width="1.100"/>
<path d="M1118.500 17.500H1135M1118.500 24H1135M1118.500 29.500H1135" stroke="#2b2d33" fill="none" stroke-width="1.3" stroke-linecap="round" stroke-linejoin="round"/><path d="M1120 22L1133.500 19.5" stroke-linecap="butt" stroke="#2b2d33" fill="none" stroke-width="1.3" stroke-linecap="round" stroke-linejoin="round" stroke-dasharray="2 1.500"/>
<path d="M1150 17.500H1166.500M1150 22H1166.500M1150 29.500H1166.500" stroke="#2b2d33" fill="none" stroke-width="1.3" stroke-linecap="round" stroke-linejoin="round"/><path d="M1152 24.200L1165 27.5" stroke-linecap="butt" stroke="#2b2d33" fill="none" stroke-width="1.3" stroke-linecap="round" stroke-linejoin="round" stroke-dasharray="2 1.500"/>
<path d="M1183 30L1193.5 19.5" stroke="#2b2d33" fill="none" stroke-width="1.3" stroke-linecap="round" stroke-linejoin="round" stroke-width="1.5"/><path d="M1197.200 16.200L1195.300 23.600L1189.700 18z" fill="#2b2d33" stroke="#2b2d33" stroke-width="1" stroke-linejoin="round"/>
<path d="M1211.500 28.200L1217.500 22.800L1222.500 26.200L1231.500 18.800M1227.500 18.500H1231.800V22.800" stroke="#2b2d33" fill="none" stroke-width="1.3" stroke-linecap="round" stroke-linejoin="round"/>
<circle cx="1253" cy="23.5" r="8" stroke="#2b2d33" fill="none" stroke-width="1.3" stroke-linecap="round" stroke-linejoin="round"/>
<path d="M1275.500 23.600H1293M1275.500 21.500V25.700" stroke="#2b2d33" fill="none" stroke-width="1.3" stroke-linecap="round" stroke-linejoin="round"/>
<path d="M1307 26L1323.500 17.500M1309.500 30L1324.300 22.3" stroke="#2b2d33" fill="none" stroke-width="1.3" stroke-linecap="round" stroke-linejoin="round"/>
<path d="M1338 30L1341.0 21.0L1344.2 26.5L1347.5 16.5L1350.8 26.5L1354.0 21.0L1357.0 30" stroke="#2b2d33" fill="none" stroke-width="1.3" stroke-linecap="round" stroke-linejoin="round"/><path d="M1339 26.7H1356.0" stroke-linecap="butt" stroke="#2b2d33" fill="none" stroke-width="1.3" stroke-linecap="round" stroke-linejoin="round" stroke-dasharray="1.500 1.5" stroke-width="1"/>
<path d="M1371.500 16.500h14.500a1.300 1.300 0 0 1 1.300 1.300v9a1.300 1.300 0 0 1-1.300 1.300h-7.500l-3 2.700v-2.700h-4a1.300 1.300 0 0 1-1.300-1.300v-9a1.300 1.300 0 0 1 1.300-1.300z" stroke="#2b2d33" fill="none" stroke-width="1.3" stroke-linecap="round" stroke-linejoin="round"/>
<text x="1376.300" y="26.300" font-family="Liberation Sans, sans-serif" font-weight="700" font-size="8.500" fill="#2b2d33">$</text>
<rect x="1402" y="16.500" width="16.800" height="11.500" rx="1.300" stroke="#2b2d33" fill="none" stroke-width="1.3" stroke-linecap="round" stroke-linejoin="round"/><path d="M1410.400 28V31.500" stroke="#2b2d33" fill="none" stroke-width="1.3" stroke-linecap="round" stroke-linejoin="round"/>
<text x="1408" y="25.800" font-family="Liberation Sans, sans-serif" font-weight="700" font-size="8.500" fill="#2b2d33">$</text>
<g transform="translate(1834.1 26) scale(.9) translate(-1834.3 -25.2)"><path d="M1830.300 29.300c-2-.2-3.100-1.600-3.100-3.300 0-1.800 1.300-3.100 3-3.300.3-2.200 2-3.700 4.100-3.700s3.800 1.500 4.100 3.700c1.700.2 3 1.500 3 3.300 0 1.700-1.100 3.100-3.100 3.300" stroke="#2b2d33" fill="none" stroke-width="1.3" stroke-linecap="round" stroke-linejoin="round" stroke-width="1.45"/></g>
<path d="M1833 28v5.200M1831.800 29.400l1.200-1.400M1835.400 28v5.200M1836.600 31.800l-1.200 1.400" stroke="#22cc99" stroke-width="1.100" fill="none" stroke-linecap="round"/>
<path d="M1866 21.300h-3.300a1.500 1.500 0 0 0-1.500 1.500v8a1.500 1.500 0 0 0 1.500 1.500h8a1.500 1.500 0 0 0 1.500-1.500v-3.300" stroke="#2b2d33" fill="none" stroke-width="1.3" stroke-linecap="round" stroke-linejoin="round"/><path d="M1865.500 27.500L1871.800 21.200M1868 20.800h4.200v4.200" stroke="#22cc99" stroke-width="1.300" fill="none" stroke-linecap="round" stroke-linejoin="round"/>
<rect x="1893.500" y="21.500" width="13" height="10" rx="1" stroke="#2b2d33" fill="none" stroke-width="1.3" stroke-linecap="round" stroke-linejoin="round"/><path d="M1903.800 23.800V29.200M1896.300 26.500H1901.500M1898.300 24.500L1896.300 26.500L1898.300 28.500" stroke="#2b2d33" fill="none" stroke-width="1.3" stroke-linecap="round" stroke-linejoin="round" stroke-width="1.5"/>
<path d="M11.200 64.900H25.700M18.450 58V71.800" stroke="#2fd9a8" stroke-width="1.200" fill="none" stroke-linecap="round"/>
<path d="M11.200 93.700H26" stroke="#2b2d33" fill="none" stroke-width="1.3" stroke-linecap="round" stroke-linejoin="round"/>
<path d="M11.200 116.700H26M11.200 119.300H26M11.200 121.800H26M11.200 128.200H26" stroke="#2b2d33" fill="none" stroke-width="1.3" stroke-linecap="round" stroke-linejoin="round" stroke-width="1.1"/><path d="M12 126.200L25 123.300" stroke-linecap="butt" stroke="#2b2d33" fill="none" stroke-width="1.3" stroke-linecap="round" stroke-linejoin="round" stroke-dasharray="2 1.500" stroke-width="1.1"/>
<path d="M9 157.2L12.0 148.2L15.2 153.7L18.5 143.7L21.8 153.7L25.0 148.2L28.0 157.2" stroke="#2b2d33" fill="none" stroke-width="1.3" stroke-linecap="round" stroke-linejoin="round"/><path d="M10 153.89999999999998H27.0" stroke-linecap="butt" stroke="#2b2d33" fill="none" stroke-width="1.3" stroke-linecap="round" stroke-linejoin="round" stroke-dasharray="1.500 1.5" stroke-width="1"/>
<path d="M15.300 173H27.700M9.700 186.200H21.800" stroke="#2b2d33" fill="none" stroke-width="1.3" stroke-linecap="round" stroke-linejoin="round"/><path d="M14.800 183.300c4 0 7-2.300 7-6.800M19.400 178.300l2.400-2.500 2.400 2.500" stroke="#2b2d33" fill="none" stroke-width="1.3" stroke-linecap="round" stroke-linejoin="round"/>
<path d="M8.300 212.800L14.800 206.600L20.700 212L28.600 203.300M24.500 203H28.900V207.400" stroke="#2b2d33" fill="none" stroke-width="1.3" stroke-linecap="round" stroke-linejoin="round"/>
<path d="M12.3 230.7H23.3M12.3 230.7v1.800M23.3 230.7v1.800M17.8 230.7V243.39999999999998M15.8 243.39999999999998H19.8" stroke="#2b2d33" fill="none" stroke-width="1.3" stroke-linecap="round" stroke-linejoin="round"/>
<path d="M22.8 239.89999999999998h4M22.8 241.6h4M22.8 243.29999999999998h4" stroke="#2b2d33" stroke-width="1.100"/>
<rect x="11.600" y="258.400" width="14.200" height="14" rx="2.500" stroke="#2b2d33" fill="none" stroke-width="1.3" stroke-linecap="round" stroke-linejoin="round"/><path d="M15.300 262.800v1.300c0 4.300 6.600 4.300 6.600 0v-1.300" stroke="#2b2d33" fill="none" stroke-width="1.3" stroke-linecap="round" stroke-linejoin="round"/>
<path d="M8.500 287H28.500M8.500 353.500H28.500M8.500 477.500H28.500" stroke="#f2f2f4" stroke-width="1"/>
<g transform="translate(18.6 306.200) rotate(43)"><rect x="-9.200" y="-3.500" width="18.400" height="7" rx="1" stroke="#2b2d33" fill="none" stroke-width="1.3" stroke-linecap="round" stroke-linejoin="round"/><path d="M-5.500 -3.500v2.400M-2.700 -3.500v3.300M0 -3.500v2.400M2.700 -3.500v3.300M5.500 -3.500v2.400" stroke="#2b2d33" fill="none" stroke-width="1.3" stroke-linecap="round" stroke-linejoin="round" stroke-width="1"/></g>
<circle cx="18" cy="334" r="7.300" stroke="#2b2d33" fill="none" stroke-width="1.3" stroke-linecap="round" stroke-linejoin="round"/><path d="M23.200 339.300L26 342M15.700 334H20.300M18 331.700V336.300" stroke="#2b2d33" fill="none" stroke-width="1.3" stroke-linecap="round" stroke-linejoin="round"/>
<g transform="translate(18.800 374) rotate(40)"><path d="M-6.500 -7.500h4v8.500a2.500 2.500 0 0 0 5 0v-8.500h4v8.500a6.500 6.500 0 0 1-13 0z" stroke="#2b2d33" fill="none" stroke-width="1.3" stroke-linecap="round" stroke-linejoin="round"/><path d="M-6.500 -4.500h4M2.500 -4.500h4" stroke="#2b2d33" fill="none" stroke-width="1.3" stroke-linecap="round" stroke-linejoin="round"/></g>
<path d="M24 393.800c.8.800.5 1.800-.2 2.600l-6 6-2.700-2.700 6.100-5.900c.8-.7 2-.8 2.800 0z" stroke="#2b2d33" fill="none" stroke-width="1.3" stroke-linecap="round" stroke-linejoin="round"/><path d="M15 399.800c-2.400-.5-4 .7-4.500 2.500-.3 1.200-.8 1.800-1.800 2.300 1.500 1.600 4.600 2.100 6.700.4 1.400-1.100 2.100-2.700 1.800-4.600z" stroke="#2b2d33" fill="none" stroke-width="1.3" stroke-linecap="round" stroke-linejoin="round"/><rect x="20.500" y="404.500" width="7.500" height="5.500" rx="1" stroke="#2b2d33" fill="none" stroke-width="1.3" stroke-linecap="round" stroke-linejoin="round" stroke-width="1.100" fill="#fff"/><path d="M22.300 404.300v-1.300a1.900 1.900 0 0 1 3.800 0" stroke="#2b2d33" fill="none" stroke-width="1.3" stroke-linecap="round" stroke-linejoin="round" stroke-width="1.100"/>
<rect x="11.600" y="429.200" width="13.800" height="9.200" rx="1.800" stroke="#2b2d33" fill="none" stroke-width="1.3" stroke-linecap="round" stroke-linejoin="round"/><path d="M14.500 429v-3a4 4 0 0 1 7.700-1.500" stroke="#2b2d33" fill="none" stroke-width="1.3" stroke-linecap="round" stroke-linejoin="round"/><path d="M18.500 432.800v2.200" stroke="#2b2d33" fill="none" stroke-width="1.3" stroke-linecap="round" stroke-linejoin="round" stroke-width="1.600"/>
<path d="M10 459c2.300-3.800 5.200-5.700 8.500-5.700s6.200 1.900 8.500 5.700c-2.300 3.800-5.200 5.700-8.500 5.700s-6.200-1.900-8.500-5.700z" stroke="#2b2d33" fill="none" stroke-width="1.3" stroke-linecap="round" stroke-linejoin="round"/><circle cx="18.500" cy="459" r="3.200" stroke="#2b2d33" fill="none" stroke-width="1.3" stroke-linecap="round" stroke-linejoin="round"/>
<path d="M11.500 492H25.500M15.700 491.800v-1.600a1 1 0 0 1 1-1h3.600a1 1 0 0 1 1 1v1.600M12.800 492.200v10.300a1.500 1.500 0 0 0 1.500 1.500h8.400a1.500 1.500 0 0 0 1.500-1.500V492.200M16.700 495.500v5M20.300 495.500v5" stroke="#2b2d33" fill="none" stroke-width="1.3" stroke-linecap="round" stroke-linejoin="round"/>
<rect x="940.0" y="919" width="16.800" height="16.800" rx="3.500" fill="#fff" filter="url(#sh2)"/>
<rect x="968.8000000000001" y="919" width="16.800" height="16.800" rx="3.500" fill="#fff" filter="url(#sh2)"/>
<rect x="997.6" y="919" width="16.800" height="16.800" rx="3.500" fill="#fff" filter="url(#sh2)"/>
<path d="M944.600 927.400H952.200M948.400 923.600V931.200M973.400 927.400H981" stroke="#2b2d33" fill="none" stroke-width="1.3" stroke-linecap="round" stroke-linejoin="round"/>
<path d="M1002.300 926.300a4 4 0 1 1 .6 3.600M1002 923.600v2.900h2.900" stroke="#2b2d33" fill="none" stroke-width="1.3" stroke-linecap="round" stroke-linejoin="round" stroke-width="1.200"/>
<rect x="1846.300" y="919" width="16.800" height="16.800" rx="3.500" fill="#fff" filter="url(#sh2)"/>
<path d="M1853 923.200L1857 927.400L1853 931.600" stroke="#2b2d33" fill="none" stroke-width="1.3" stroke-linecap="round" stroke-linejoin="round"/>
<circle cx="1897" cy="971.500" r="1.900" stroke="#2b2d33" fill="none" stroke-width="1.3" stroke-linecap="round" stroke-linejoin="round" stroke-width="1.100"/>
<path d="M1901.89 971.87L1901.66 973.02L1900.48 973.26L1899.96 974.04L1900.19 975.22L1899.21 975.87L1898.21 975.21L1897.30 975.39L1896.63 976.39L1895.48 976.16L1895.24 974.98L1894.46 974.46L1893.28 974.69L1892.63 973.71L1893.29 972.71L1893.11 971.80L1892.11 971.13L1892.34 969.98L1893.52 969.74L1894.04 968.96L1893.81 967.78L1894.79 967.13L1895.79 967.79L1896.70 967.61L1897.37 966.61L1898.52 966.84L1898.76 968.02L1899.54 968.54L1900.72 968.31L1901.37 969.29L1900.71 970.29L1900.89 971.20z" stroke="#2b2d33" fill="none" stroke-width="1.3" stroke-linecap="round" stroke-linejoin="round" stroke-width="1"/>
<path d="M148.95 995.100L154.55 1000.700M154.55 995.100L148.95 1000.700" stroke="#74767d" stroke-width=".95" fill="none" stroke-linecap="round"/>
<path d="M165.5 992.500V1003.500" stroke="#e6e6e9" stroke-width="1"/>
<path d="M274.95 995.100L280.55 1000.700M280.55 995.100L274.95 1000.700" stroke="#74767d" stroke-width=".95" fill="none" stroke-linecap="round"/>
<path d="M291.5 992.500V1003.500" stroke="#e6e6e9" stroke-width="1"/>
<path d="M400.95 995.100L406.55 1000.700M406.55 995.100L400.95 1000.700" stroke="#74767d" stroke-width=".95" fill="none" stroke-linecap="round"/>
<path d="M417.5 992.500V1003.500" stroke="#e6e6e9" stroke-width="1"/>
<path d="M526.95 995.100L532.55 1000.700M532.55 995.100L526.95 1000.700" stroke="#74767d" stroke-width=".95" fill="none" stroke-linecap="round"/>
<path d="M543.5 992.500V1003.500" stroke="#e6e6e9" stroke-width="1"/>
<path d="M652.95 995.100L658.55 1000.700M658.55 995.100L652.95 1000.700" stroke="#74767d" stroke-width=".95" fill="none" stroke-linecap="round"/>
<path d="M669.5 992.500V1003.500" stroke="#e6e6e9" stroke-width="1"/>
<path d="M778.95 995.100L784.55 1000.700M784.55 995.100L778.95 1000.700" stroke="#74767d" stroke-width=".95" fill="none" stroke-linecap="round"/>
<path d="M795.5 992.500V1003.500" stroke="#e6e6e9" stroke-width="1"/>
<path d="M904.95 995.100L910.55 1000.700M910.55 995.100L904.95 1000.700" stroke="#74767d" stroke-width=".95" fill="none" stroke-linecap="round"/>
<path d="M921.5 992.500V1003.500" stroke="#e6e6e9" stroke-width="1"/>
<path d="M1030.95 995.100L1036.55 1000.700M1036.55 995.100L1030.95 1000.700" stroke="#74767d" stroke-width=".95" fill="none" stroke-linecap="round"/>
<path d="M1047.5 992.500V1003.500" stroke="#e6e6e9" stroke-width="1"/>
<path d="M1156.95 995.100L1162.55 1000.700M1162.55 995.100L1156.95 1000.700" stroke="#74767d" stroke-width=".95" fill="none" stroke-linecap="round"/>
<path d="M1173.5 992.500V1003.500" stroke="#e6e6e9" stroke-width="1"/>
<path d="M1282.95 995.100L1288.55 1000.700M1288.55 995.100L1282.95 1000.700" stroke="#74767d" stroke-width=".95" fill="none" stroke-linecap="round"/>
<path d="M1299.5 992.500V1003.500" stroke="#e6e6e9" stroke-width="1"/>
<path d="M1408.95 995.100L1414.55 1000.700M1414.55 995.100L1408.95 1000.700" stroke="#74767d" stroke-width=".95" fill="none" stroke-linecap="round"/>
<path d="M1534.95 995.100L1540.55 1000.700M1540.55 995.100L1534.95 1000.700" stroke="#74767d" stroke-width=".95" fill="none" stroke-linecap="round"/>
<path d="M1660.95 995.100L1666.55 1000.700M1666.55 995.100L1660.95 1000.700" stroke="#74767d" stroke-width=".95" fill="none" stroke-linecap="round"/>
<path d="M1677.5 992.500V1003.500" stroke="#e6e6e9" stroke-width="1"/>
<path d="M1786.95 995.100L1792.55 1000.700M1792.55 995.100L1786.95 1000.700" stroke="#74767d" stroke-width=".95" fill="none" stroke-linecap="round"/>
<path d="M1803.5 992.500V1003.500" stroke="#e6e6e9" stroke-width="1"/>
<path d="M18.60 988.60L20.66 992.37L24.88 993.16L21.93 996.28L22.48 1000.54L18.60 998.70L14.72 1000.54L15.27 996.28L12.32 993.16L16.54 992.37z" stroke="#0b3a30" fill="none" stroke-width="1.400" stroke-linejoin="round"/>
<path d="M1818.200 997.600H1827.200M1822.700 993.100V1002.100" stroke="#2b2d33" fill="none" stroke-width="1.3" stroke-linecap="round" stroke-linejoin="round"/>
<rect x="1842.200" y="993.300" width="12.600" height="9" rx="1.800" stroke="#2b2d33" fill="none" stroke-width="1.3" stroke-linecap="round" stroke-linejoin="round"/><path d="M1847.400 993.300V1002.300M1847.400 997.800H1854.800" stroke="#2b2d33" fill="none" stroke-width="1.3" stroke-linecap="round" stroke-linejoin="round"/>
<rect x="1868.400" y="993.800" width="12.400" height="7.800" rx="1.800" stroke="#2b2d33" fill="none" stroke-width="1.3" stroke-linecap="round" stroke-linejoin="round"/>
<path d="M1894.600 995.500v-1.500a1.500 1.500 0 0 1 1.500-1.500h1.500M1902.200 992.500h1.500a1.500 1.500 0 0 1 1.500 1.500v1.500M1905.200 998.800v1.500a1.500 1.500 0 0 1-1.500 1.500h-1.500M1897.600 1001.800h-1.500a1.500 1.500 0 0 1-1.500-1.500v-1.500" stroke="#2b2d33" fill="none" stroke-width="1.3" stroke-linecap="round" stroke-linejoin="round" stroke-width="1.500"/>
</svg>
</body></html>
